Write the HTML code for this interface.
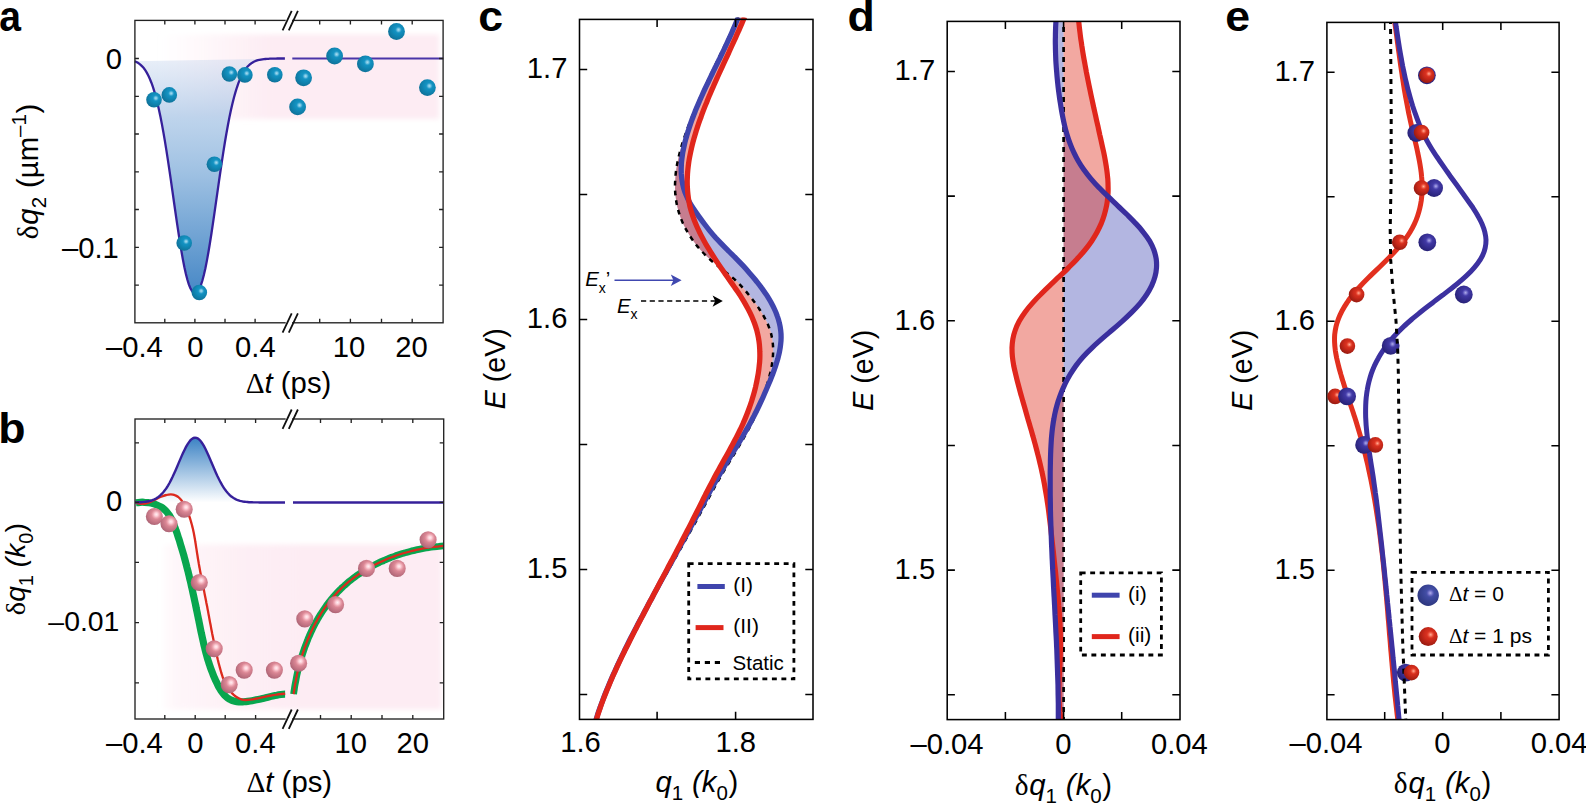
<!DOCTYPE html>
<html lang="en"><head><meta charset="utf-8"><title>Figure</title>
<style>html,body{margin:0;padding:0;background:#fff}body{width:1586px;height:804px;overflow:hidden}</style>
</head><body>
<svg width="1586" height="804" viewBox="0 0 1586 804" style="display:block;font-family:'Liberation Sans',sans-serif" fill="#000">
<defs>
<radialGradient id="gT" cx="0.6" cy="0.38" r="0.78"><stop offset="0" stop-color="#1b9ccd"/><stop offset="0.4" stop-color="#118bb9"/><stop offset="0.75" stop-color="#0f769e"/><stop offset="1" stop-color="#0c5f84"/></radialGradient>
<radialGradient id="hT"><stop offset="0" stop-color="#b5e2f3" stop-opacity="0.95"/><stop offset="0.45" stop-color="#8fd0ea" stop-opacity="0.7"/><stop offset="1" stop-color="#2aa0cf" stop-opacity="0"/></radialGradient>
<radialGradient id="gP" cx="0.6" cy="0.38" r="0.8"><stop offset="0" stop-color="#f0a5b0"/><stop offset="0.35" stop-color="#db8795"/><stop offset="0.7" stop-color="#b96d7d"/><stop offset="1" stop-color="#905062"/></radialGradient>
<radialGradient id="hP"><stop offset="0" stop-color="#fff0f3" stop-opacity="1"/><stop offset="0.35" stop-color="#ffd5dd" stop-opacity="0.9"/><stop offset="1" stop-color="#f0a5b0" stop-opacity="0"/></radialGradient>
<radialGradient id="gB" cx="0.6" cy="0.38" r="0.78"><stop offset="0" stop-color="#4d45b6"/><stop offset="0.4" stop-color="#3a3299"/><stop offset="0.75" stop-color="#2a247c"/><stop offset="1" stop-color="#1c1760"/></radialGradient>
<radialGradient id="hB"><stop offset="0" stop-color="#b9b5ee" stop-opacity="0.95"/><stop offset="0.45" stop-color="#8a85d8" stop-opacity="0.7"/><stop offset="1" stop-color="#4c44b4" stop-opacity="0"/></radialGradient>
<radialGradient id="gR" cx="0.6" cy="0.38" r="0.78"><stop offset="0" stop-color="#e63a25"/><stop offset="0.4" stop-color="#cc2a1b"/><stop offset="0.75" stop-color="#a01d12"/><stop offset="1" stop-color="#7c130c"/></radialGradient>
<radialGradient id="hR"><stop offset="0" stop-color="#ffb09a" stop-opacity="1"/><stop offset="0.4" stop-color="#fb8068" stop-opacity="0.75"/><stop offset="1" stop-color="#e63a25" stop-opacity="0"/></radialGradient>
<radialGradient id="gL" cx="0.6" cy="0.38" r="0.78"><stop offset="0" stop-color="#4d5ab2"/><stop offset="0.4" stop-color="#3c479b"/><stop offset="0.75" stop-color="#2f3983"/><stop offset="1" stop-color="#232b68"/></radialGradient>
<g id="sL"><circle r="1" fill="url(#gL)"/><circle cx="0.2" cy="-0.2" r="0.42" fill="url(#hB)"/></g>
<g id="sT"><circle r="1" fill="url(#gT)"/><circle cx="0.24" cy="-0.2" r="0.42" fill="url(#hT)"/></g>
<g id="sP"><circle r="1" fill="url(#gP)"/><circle cx="0.22" cy="-0.24" r="0.6" fill="url(#hP)"/></g>
<g id="sB"><circle r="1" fill="url(#gB)"/><circle cx="0.2" cy="-0.2" r="0.42" fill="url(#hB)"/></g>
<g id="sR"><circle r="1" fill="url(#gR)"/><circle cx="0.26" cy="-0.2" r="0.44" fill="url(#hR)"/></g>
<linearGradient id="fA" x1="0" y1="0" x2="0" y2="1"><stop offset="0" stop-color="#b9cdea" stop-opacity="0.32"/><stop offset="0.25" stop-color="#a9c6e6" stop-opacity="0.75"/><stop offset="0.5" stop-color="#9dc0e2" stop-opacity="1"/><stop offset="1" stop-color="#4788c6"/></linearGradient>
<linearGradient id="fBg" x1="0" y1="0" x2="0" y2="1"><stop offset="0" stop-color="#3b82c4"/><stop offset="1" stop-color="#ffffff"/></linearGradient>
<filter id="blur" x="-10%" y="-20%" width="120%" height="140%"><feGaussianBlur stdDeviation="2.5"/></filter>
<linearGradient id="pinkL" x1="0" y1="0" x2="1" y2="0"><stop offset="0" stop-color="#fdecf3" stop-opacity="0"/><stop offset="0.12" stop-color="#fdecf3" stop-opacity="0.25"/><stop offset="0.4" stop-color="#fdecf3" stop-opacity="1"/><stop offset="1" stop-color="#fdecf3" stop-opacity="1"/></linearGradient>
<linearGradient id="pinkB" x1="0" y1="0" x2="1" y2="0"><stop offset="0" stop-color="#fdecf3" stop-opacity="0"/><stop offset="0.05" stop-color="#fdecf3" stop-opacity="0.45"/><stop offset="0.3" stop-color="#fdecf3" stop-opacity="0.85"/><stop offset="0.5" stop-color="#fdecf3" stop-opacity="1"/><stop offset="1" stop-color="#fdecf3" stop-opacity="1"/></linearGradient>
</defs>
<rect x="158" y="34.5" width="281" height="84.5" fill="url(#pinkL)" filter="url(#blur)"/>
<path d="M134.9 61.2L136.4 61.9L137.9 62.8L139.4 63.8L140.9 65.1L142.4 66.6L143.9 68.3L145.4 70.4L146.9 72.9L148.4 75.7L149.9 79L151.4 82.7L152.9 86.9L154.4 91.7L155.9 97L157.4 102.9L158.9 109.4L160.4 116.5L161.9 124.1L163.4 132.4L164.9 141.1L166.4 150.4L167.9 160.1L169.4 170.1L170.9 180.4L172.4 190.9L173.9 201.5L175.4 212L176.9 222.3L178.4 232.4L179.9 242L181.4 251.1L182.9 259.6L184.4 267.2L185.9 274L187.4 279.8L188.9 284.6L190.4 288.3L191.9 290.9L193.4 292.5L194.9 293L196.4 292.6L197.9 291.2L199.4 288.7L200.9 285.1L202.4 280.5L203.9 274.8L205.4 268.2L206.9 260.6L208.4 252.3L209.9 243.3L211.4 233.7L212.9 223.7L214.4 213.4L215.9 202.9L217.4 192.3L218.9 181.8L220.4 171.5L221.9 161.4L223.4 151.6L224.9 142.3L226.4 133.5L227.9 125.2L229.4 117.4L230.9 110.3L232.4 103.7L233.9 97.7L235.4 92.4L236.9 87.5L238.4 83.2L239.9 79.4L241.4 76.1L242.9 73.2L244.4 70.7L245.9 68.6L247.4 66.8L248.9 65.3L250.4 64L251.9 62.9L253.4 62L254.9 61.3L256.4 60.7L257.9 60.2L259.4 59.9L260.9 59.6L262.4 59.3L263.9 59.1L265.4 59L266.9 58.9L268.4 58.8L269.9 58.7L271.4 58.6L272.9 58.6L274.4 58.6L275.9 58.6L277.4 58.5L278.9 58.5L280.4 58.5L281.9 58.5L283.4 58.5L284.9 58.5Z" fill="url(#fA)"/>
<path d="M134.9 61.2L136.4 61.9L137.9 62.8L139.4 63.8L140.9 65.1L142.4 66.6L143.9 68.3L145.4 70.4L146.9 72.9L148.4 75.7L149.9 79L151.4 82.7L152.9 86.9L154.4 91.7L155.9 97L157.4 102.9L158.9 109.4L160.4 116.5L161.9 124.1L163.4 132.4L164.9 141.1L166.4 150.4L167.9 160.1L169.4 170.1L170.9 180.4L172.4 190.9L173.9 201.5L175.4 212L176.9 222.3L178.4 232.4L179.9 242L181.4 251.1L182.9 259.6L184.4 267.2L185.9 274L187.4 279.8L188.9 284.6L190.4 288.3L191.9 290.9L193.4 292.5L194.9 293L196.4 292.6L197.9 291.2L199.4 288.7L200.9 285.1L202.4 280.5L203.9 274.8L205.4 268.2L206.9 260.6L208.4 252.3L209.9 243.3L211.4 233.7L212.9 223.7L214.4 213.4L215.9 202.9L217.4 192.3L218.9 181.8L220.4 171.5L221.9 161.4L223.4 151.6L224.9 142.3L226.4 133.5L227.9 125.2L229.4 117.4L230.9 110.3L232.4 103.7L233.9 97.7L235.4 92.4L236.9 87.5L238.4 83.2L239.9 79.4L241.4 76.1L242.9 73.2L244.4 70.7L245.9 68.6L247.4 66.8L248.9 65.3L250.4 64L251.9 62.9L253.4 62L254.9 61.3L256.4 60.7L257.9 60.2L259.4 59.9L260.9 59.6L262.4 59.3L263.9 59.1L265.4 59L266.9 58.9L268.4 58.8L269.9 58.7L271.4 58.6L272.9 58.6L274.4 58.6L275.9 58.6L277.4 58.5L278.9 58.5L280.4 58.5L281.9 58.5L283.4 58.5L284.9 58.5" fill="none" stroke="#36209a" stroke-width="2.3"/>
<path d="M292.3 58.5H443.3" fill="none" stroke="#4a35a8" stroke-width="2.2"/>
<rect x="134.9" y="20.4" width="308.2" height="302.4" fill="none" stroke="#222" stroke-width="1.35"/>
<path d="M164.8 20.4v4M164.8 322.8v-4M194.9 20.4v4M194.9 322.8v-4M225 20.4v4M225 322.8v-4M255.1 20.4v4M255.1 322.8v-4M319.7 20.4v4M319.7 322.8v-4M350.4 20.4v4M350.4 322.8v-4M381.5 20.4v4M381.5 322.8v-4M412.2 20.4v4M412.2 322.8v-4" stroke="#222" stroke-width="1.35" fill="none"/>
<path d="M134.9 58.5h4M443.1 58.5h-4M134.9 96.3h4M443.1 96.3h-4M134.9 134h4M443.1 134h-4M134.9 171.8h4M443.1 171.8h-4M134.9 209.5h4M443.1 209.5h-4M134.9 247.3h4M443.1 247.3h-4M134.9 285.1h4M443.1 285.1h-4" stroke="#222" stroke-width="1.35" fill="none"/>
<rect x="285.7" y="18.4" width="6.4" height="4" fill="#fff"/>
<path d="M282.6 30.3l9.1 -19.4M288.8 30.3l9.1 -19.4" stroke="#111" stroke-width="1.8" fill="none"/>
<rect x="285.7" y="320.8" width="6.4" height="4" fill="#fff"/>
<path d="M282.6 332.7l9.1 -19.4M288.8 332.7l9.1 -19.4" stroke="#111" stroke-width="1.8" fill="none"/>
<use href="#sT" transform="translate(154 99.7) scale(7.8)"/>
<use href="#sT" transform="translate(169.3 94.9) scale(7.8)"/>
<use href="#sT" transform="translate(184.2 243) scale(7.8)"/>
<use href="#sT" transform="translate(199.3 292.5) scale(7.8)"/>
<use href="#sT" transform="translate(214.4 164.2) scale(7.8)"/>
<use href="#sT" transform="translate(229.4 74) scale(7.8)"/>
<use href="#sT" transform="translate(244.9 74.9) scale(7.8)"/>
<use href="#sT" transform="translate(274.8 74.8) scale(7.8)"/>
<use href="#sT" transform="translate(297.6 106.9) scale(8.4)"/>
<use href="#sT" transform="translate(303.6 77.8) scale(8.4)"/>
<use href="#sT" transform="translate(334.6 56) scale(8.4)"/>
<use href="#sT" transform="translate(365.4 63.9) scale(8.4)"/>
<use href="#sT" transform="translate(396.5 31.5) scale(8.4)"/>
<use href="#sT" transform="translate(427.4 87.6) scale(8.4)"/>
<text x="134.4" y="356.9" font-size="29.2" text-anchor="middle"  style="">–0.4</text>
<text x="195.3" y="356.9" font-size="29.2" text-anchor="middle"  style="">0</text>
<text x="255.4" y="356.9" font-size="29.2" text-anchor="middle"  style="">0.4</text>
<text x="349" y="356.9" font-size="29.2" text-anchor="middle"  style="">10</text>
<text x="411.6" y="356.9" font-size="29.2" text-anchor="middle"  style="">20</text>
<text x="122" y="69" font-size="29.2" text-anchor="end"  style="">0</text>
<text x="118.8" y="258.2" font-size="29.2" text-anchor="end"  style="">–0.1</text>
<text x="288.5" y="393" font-size="29.3" text-anchor="middle"  style=""><tspan font-family="Liberation Serif,serif">Δ</tspan><tspan font-style="italic">t</tspan> (ps)</text>
<text transform="translate(37.6 171.5) rotate(-90)" font-size="29.3" text-anchor="middle"><tspan font-family="Liberation Serif,serif">δ</tspan><tspan font-style="italic" dx="0.8">q</tspan><tspan font-size="20.5" dy="8">2</tspan><tspan dy="-8" dx="0.8"> (µm</tspan><tspan font-size="20.5" dy="-12">–1</tspan><tspan dy="12" dx="0.6">)</tspan></text>
<text transform="translate(-0.8 30.8) scale(0.92 1.01)" font-size="42.5" font-weight="bold">a</text>
<rect x="160" y="544.5" width="281.5" height="165" fill="url(#pinkB)" filter="url(#blur)"/>
<path d="M141 502.2L142.5 502.1L144 501.9L145.5 501.8L147 501.5L148.5 501.3L150 500.9L151.5 500.5L153 499.9L154.5 499.3L156 498.5L157.5 497.6L159 496.5L160.5 495.2L162 493.7L163.5 492L165 490.1L166.5 488L168 485.6L169.5 483L171 480.1L172.5 477.1L174 473.8L175.5 470.5L177 467L178.5 463.4L180 459.9L181.5 456.4L183 453L184.5 449.9L186 446.9L187.5 444.3L189 442.1L190.5 440.2L192 438.9L193.5 438L195 437.7L196.5 437.9L198 438.6L199.5 439.8L201 441.5L202.5 443.7L204 446.2L205.5 449L207 452.2L208.5 455.5L210 459L211.5 462.5L213 466L214.5 469.5L216 472.9L217.5 476.2L219 479.3L220.5 482.2L222 484.9L223.5 487.3L225 489.6L226.5 491.5L228 493.3L229.5 494.8L231 496.2L232.5 497.3L234 498.3L235.5 499.1L237 499.8L238.5 500.3L240 500.8L241.5 501.2L243 501.5L244.5 501.7L246 501.9L247.5 502L249 502.2L250.5 502.2L252 502.3L253.5 502.4L255 502.4L256.5 502.4L258 502.4L259.5 502.5Z" fill="url(#fBg)"/>
<path d="M135.9 502.8C136.6 502.7 138.7 502.4 140.1 502.3C141.5 502.2 143 502.2 144.4 502.3C145.9 502.3 147.3 502.5 148.8 502.7C150.2 502.9 151.6 503.2 153 503.6C154.4 504 155.7 504.5 157 505C158.3 505.5 159.6 506.2 160.8 506.9C161.9 507.6 163.1 508.4 164.1 509.2C165.1 510.1 166.1 511.1 166.9 512.1C167.8 513.1 168.6 514.2 169.4 515.3C170.1 516.5 170.8 517.7 171.4 518.9C172 520.1 172.6 521.4 173.1 522.7C173.7 524 174.2 525.3 174.7 526.7C175.2 528 175.7 529.4 176.1 530.7C176.6 532.1 177.1 533.4 177.5 534.8C177.9 536.1 178.4 537.5 178.8 538.8C179.3 540.2 179.7 541.5 180.1 542.9C180.5 544.2 180.9 545.6 181.3 547C181.7 548.3 182.1 549.7 182.5 551C182.9 552.4 183.3 553.7 183.7 555.1C184.1 556.4 184.4 557.8 184.8 559.1C185.2 560.5 185.5 561.8 185.9 563.2C186.3 564.6 186.6 565.9 186.9 567.3C187.3 568.6 187.6 570 188 571.3C188.3 572.7 188.6 574.1 189 575.4C189.3 576.8 189.6 578.1 189.9 579.5C190.3 580.8 190.6 582.2 190.9 583.6C191.2 584.9 191.5 586.3 191.8 587.6C192.1 589 192.4 590.4 192.7 591.7C193 593.1 193.3 594.4 193.6 595.8C193.9 597.2 194.2 598.5 194.5 599.9C194.8 601.3 195.1 602.6 195.4 604C195.7 605.4 196 606.7 196.2 608.1C196.5 609.5 196.8 610.8 197.1 612.2C197.4 613.6 197.6 615 197.9 616.3C198.2 617.7 198.5 619.1 198.8 620.5C199 621.8 199.3 623.2 199.6 624.6C199.9 626 200.2 627.3 200.4 628.7C200.7 630.1 201 631.5 201.3 632.9C201.6 634.2 201.9 635.6 202.2 637C202.5 638.4 202.8 639.7 203.1 641.1C203.4 642.5 203.7 643.9 204 645.2C204.4 646.6 204.7 648 205 649.3C205.4 650.7 205.7 652.1 206.1 653.4C206.5 654.8 206.9 656.2 207.2 657.5C207.6 658.9 208 660.2 208.5 661.6C208.9 662.9 209.3 664.2 209.8 665.6C210.2 666.9 210.7 668.3 211.2 669.6C211.7 670.9 212.2 672.2 212.7 673.5C213.2 674.9 213.7 676.2 214.3 677.5C214.9 678.8 215.4 680.1 216.1 681.4C216.7 682.6 217.3 683.9 217.9 685.2C218.6 686.5 219.3 687.7 220 688.9C220.7 690.1 221.5 691.3 222.3 692.4C223.1 693.5 223.9 694.6 224.8 695.5C225.8 696.5 226.7 697.4 227.7 698.1C228.8 698.9 229.9 699.5 231.1 700C232.2 700.6 233.5 700.9 234.8 701.2C236.1 701.5 237.5 701.7 238.9 701.8C240.3 701.9 241.7 701.8 243.2 701.8C244.6 701.7 246.1 701.6 247.6 701.4C249.1 701.2 250.6 701 252.1 700.7C253.5 700.4 255 700.1 256.4 699.8C257.9 699.5 259.3 699.2 260.7 698.9C262.1 698.6 263.4 698.2 264.8 697.9C266.2 697.6 267.5 697.2 268.9 696.9C270.2 696.6 271.5 696.3 272.9 696C274.2 695.7 275.6 695.4 276.9 695.2C278.3 694.9 279.6 694.7 281 694.5C282.4 694.3 284.5 694.1 285.1 694.1" fill="none" stroke="#08a64e" stroke-width="7.2"/>
<path d="M293.6 694.1C293.7 693.3 294 691 294.3 689.5C294.5 688 294.7 686.4 295 684.9C295.3 683.3 295.6 681.8 295.9 680.3C296.2 678.7 296.5 677.2 296.8 675.6C297.1 674.1 297.5 672.5 297.8 671C298.2 669.5 298.6 667.9 299 666.4C299.4 664.9 299.8 663.3 300.2 661.8C300.6 660.3 301.1 658.7 301.6 657.2C302 655.7 302.5 654.2 303 652.7C303.5 651.2 304 649.7 304.5 648.2C305.1 646.7 305.6 645.2 306.2 643.7C306.8 642.2 307.3 640.7 307.9 639.3C308.5 637.8 309.2 636.3 309.8 634.9C310.4 633.4 311.1 632 311.8 630.6C312.4 629.2 313.1 627.7 313.8 626.3C314.6 624.9 315.3 623.5 316 622.1C316.8 620.8 317.6 619.4 318.3 618C319.1 616.7 319.9 615.3 320.8 614C321.6 612.7 322.4 611.4 323.3 610.1C324.2 608.8 325.1 607.5 326 606.2C326.9 605 327.8 603.7 328.7 602.5C329.7 601.3 330.7 600.1 331.6 598.9C332.6 597.7 333.6 596.5 334.7 595.3C335.7 594.2 336.7 593 337.8 591.9C338.9 590.8 340 589.7 341.1 588.6C342.2 587.6 343.3 586.5 344.5 585.5C345.6 584.4 346.8 583.4 348 582.4C349.2 581.4 350.4 580.5 351.6 579.5C352.8 578.5 354.1 577.6 355.3 576.7C356.6 575.8 357.8 574.9 359.1 574C360.4 573.1 361.7 572.3 363 571.5C364.4 570.6 365.7 569.8 367 569C368.4 568.2 369.8 567.5 371.1 566.7C372.5 565.9 373.9 565.2 375.3 564.5C376.7 563.8 378.1 563.1 379.5 562.4C380.9 561.8 382.4 561.1 383.8 560.5C385.3 559.8 386.7 559.2 388.2 558.6C389.7 558 391.1 557.5 392.6 556.9C394.1 556.4 395.6 555.8 397.1 555.3C398.6 554.8 400.1 554.3 401.6 553.8C403.1 553.4 404.6 552.9 406.2 552.5C407.7 552 409.2 551.6 410.8 551.2C412.3 550.8 413.8 550.5 415.4 550.1C416.9 549.8 418.5 549.4 420.1 549.1C421.6 548.8 423.2 548.5 424.7 548.2C426.3 547.9 427.9 547.7 429.4 547.5C431 547.2 432.6 547 434.1 546.8C435.7 546.6 437.3 546.4 438.8 546.3C440.4 546.1 442.7 545.9 443.5 545.9" fill="none" stroke="#08a64e" stroke-width="6.8"/>
<path d="M136 502.7C136.8 502.9 139.1 503.7 140.5 503.8C142 504 143.4 503.8 144.9 503.6C146.3 503.3 147.7 502.9 149.1 502.4C150.5 501.9 151.9 501.2 153.3 500.5C154.7 499.9 156.1 499.1 157.5 498.4C159 497.7 160.4 497 161.9 496.5C163.4 495.9 164.9 495.3 166.4 495C167.9 494.6 169.4 494.4 170.8 494.4C172.2 494.4 173.6 494.6 174.8 495.1C176.1 495.5 177.2 496.2 178.3 497C179.3 497.9 180.3 498.9 181.2 500C182.1 501.1 182.9 502.4 183.6 503.7C184.4 505 185.1 506.4 185.8 507.7C186.4 509.1 187 510.5 187.6 511.9C188.2 513.2 188.7 514.6 189.2 516C189.7 517.4 190.2 518.9 190.6 520.3C191 521.7 191.4 523.1 191.8 524.5C192.2 526 192.5 527.4 192.9 528.8C193.2 530.2 193.5 531.7 193.8 533.1C194.1 534.6 194.3 536 194.6 537.5C194.9 538.9 195.1 540.4 195.3 541.8C195.6 543.3 195.8 544.7 196 546.2C196.2 547.7 196.5 549.1 196.7 550.6C196.9 552 197.1 553.5 197.4 555C197.6 556.4 197.8 557.9 198.1 559.4C198.3 560.8 198.6 562.3 198.8 563.7C199.1 565.2 199.3 566.7 199.6 568.1C199.9 569.6 200.1 571.1 200.4 572.5C200.7 574 201 575.4 201.3 576.9C201.5 578.3 201.8 579.8 202.1 581.3C202.4 582.7 202.7 584.2 203 585.6C203.3 587.1 203.6 588.5 203.9 590C204.2 591.4 204.4 592.9 204.7 594.3C205 595.8 205.3 597.2 205.6 598.7C205.9 600.1 206.2 601.6 206.4 603C206.7 604.5 207 605.9 207.3 607.3C207.5 608.8 207.8 610.2 208.1 611.6C208.3 613.1 208.6 614.5 208.9 615.9C209.1 617.4 209.4 618.8 209.7 620.3C209.9 621.7 210.2 623.1 210.5 624.6C210.8 626 211 627.4 211.3 628.9C211.6 630.3 211.9 631.7 212.1 633.2C212.4 634.6 212.7 636 213 637.5C213.3 638.9 213.6 640.4 213.9 641.8C214.2 643.3 214.5 644.7 214.8 646.1C215.1 647.6 215.4 649 215.7 650.5C216 652 216.4 653.4 216.7 654.9C217 656.3 217.4 657.8 217.7 659.3C218.1 660.7 218.4 662.2 218.8 663.7C219.2 665.1 219.6 666.6 220 668.1C220.4 669.6 220.8 671 221.2 672.5C221.7 673.9 222.1 675.4 222.6 676.8C223.1 678.2 223.7 679.6 224.2 681C224.8 682.3 225.5 683.7 226.1 685C226.8 686.2 227.6 687.5 228.4 688.7C229.2 689.9 230 691 231 692.1C231.9 693.2 232.9 694.2 234 695.1C235.1 696.1 236.2 696.9 237.4 697.6C238.6 698.3 239.9 698.9 241.2 699.3C242.6 699.7 244 699.9 245.4 700C246.9 700.1 248.4 699.9 249.9 699.7C251.4 699.6 253 699.2 254.5 699C256 698.7 257.5 698.4 259 698.1C260.5 697.7 261.9 697.4 263.4 697.1C264.9 696.8 266.3 696.5 267.8 696.2C269.2 695.9 270.7 695.6 272.1 695.3C273.6 695 275 694.8 276.4 694.6C277.9 694.3 279.3 694.1 280.8 694C282.3 693.8 284.5 693.7 285.2 693.6" fill="none" stroke="#dc2a1e" stroke-width="2.3"/>
<path d="M293.6 694.1C293.7 693.3 294 691 294.3 689.5C294.5 688 294.7 686.4 295 684.9C295.3 683.3 295.6 681.8 295.9 680.3C296.2 678.7 296.5 677.2 296.8 675.6C297.1 674.1 297.5 672.5 297.8 671C298.2 669.5 298.6 667.9 299 666.4C299.4 664.9 299.8 663.3 300.2 661.8C300.6 660.3 301.1 658.7 301.6 657.2C302 655.7 302.5 654.2 303 652.7C303.5 651.2 304 649.7 304.5 648.2C305.1 646.7 305.6 645.2 306.2 643.7C306.8 642.2 307.3 640.7 307.9 639.3C308.5 637.8 309.2 636.3 309.8 634.9C310.4 633.4 311.1 632 311.8 630.6C312.4 629.2 313.1 627.7 313.8 626.3C314.6 624.9 315.3 623.5 316 622.1C316.8 620.8 317.6 619.4 318.3 618C319.1 616.7 319.9 615.3 320.8 614C321.6 612.7 322.4 611.4 323.3 610.1C324.2 608.8 325.1 607.5 326 606.2C326.9 605 327.8 603.7 328.7 602.5C329.7 601.3 330.7 600.1 331.6 598.9C332.6 597.7 333.6 596.5 334.7 595.3C335.7 594.2 336.7 593 337.8 591.9C338.9 590.8 340 589.7 341.1 588.6C342.2 587.6 343.3 586.5 344.5 585.5C345.6 584.4 346.8 583.4 348 582.4C349.2 581.4 350.4 580.5 351.6 579.5C352.8 578.5 354.1 577.6 355.3 576.7C356.6 575.8 357.8 574.9 359.1 574C360.4 573.1 361.7 572.3 363 571.5C364.4 570.6 365.7 569.8 367 569C368.4 568.2 369.8 567.5 371.1 566.7C372.5 565.9 373.9 565.2 375.3 564.5C376.7 563.8 378.1 563.1 379.5 562.4C380.9 561.8 382.4 561.1 383.8 560.5C385.3 559.8 386.7 559.2 388.2 558.6C389.7 558 391.1 557.5 392.6 556.9C394.1 556.4 395.6 555.8 397.1 555.3C398.6 554.8 400.1 554.3 401.6 553.8C403.1 553.4 404.6 552.9 406.2 552.5C407.7 552 409.2 551.6 410.8 551.2C412.3 550.8 413.8 550.5 415.4 550.1C416.9 549.8 418.5 549.4 420.1 549.1C421.6 548.8 423.2 548.5 424.7 548.2C426.3 547.9 427.9 547.7 429.4 547.5C431 547.2 432.6 547 434.1 546.8C435.7 546.6 437.3 546.4 438.8 546.3C440.4 546.1 442.7 545.9 443.5 545.9" fill="none" stroke="#dc2a1e" stroke-width="2.2"/>
<path d="M135 502.4L136.5 502.4L138 502.3L139.5 502.3L141 502.2L142.5 502.1L144 501.9L145.5 501.8L147 501.5L148.5 501.3L150 500.9L151.5 500.5L153 499.9L154.5 499.3L156 498.5L157.5 497.6L159 496.5L160.5 495.2L162 493.7L163.5 492L165 490.1L166.5 488L168 485.6L169.5 483L171 480.1L172.5 477.1L174 473.8L175.5 470.5L177 467L178.5 463.4L180 459.9L181.5 456.4L183 453L184.5 449.9L186 446.9L187.5 444.3L189 442.1L190.5 440.2L192 438.9L193.5 438L195 437.7L196.5 437.9L198 438.6L199.5 439.8L201 441.5L202.5 443.7L204 446.2L205.5 449L207 452.2L208.5 455.5L210 459L211.5 462.5L213 466L214.5 469.5L216 472.9L217.5 476.2L219 479.3L220.5 482.2L222 484.9L223.5 487.3L225 489.6L226.5 491.5L228 493.3L229.5 494.8L231 496.2L232.5 497.3L234 498.3L235.5 499.1L237 499.8L238.5 500.3L240 500.8L241.5 501.2L243 501.5L244.5 501.7L246 501.9L247.5 502L249 502.2L250.5 502.2L252 502.3L253.5 502.4L255 502.4L256.5 502.4L258 502.4L259.5 502.5L261 502.5L262.5 502.5L264 502.5L265.5 502.5L267 502.5L268.5 502.5L270 502.5L271.5 502.5L273 502.5L274.5 502.5L276 502.5L277.5 502.5L279 502.5L280.5 502.5L282 502.5L283.5 502.5L285 502.5" fill="none" stroke="#36209a" stroke-width="2.4"/>
<path d="M293 502.5H443.3" fill="none" stroke="#36209a" stroke-width="2.3"/>
<rect x="135" y="419" width="308.7" height="300" fill="none" stroke="#222" stroke-width="1.35"/>
<path d="M164.8 419v4M164.8 719v-4M195.2 419v4M195.2 719v-4M225.2 419v4M225.2 719v-4M255.6 419v4M255.6 719v-4M320.5 419v4M320.5 719v-4M351.2 419v4M351.2 719v-4M382 419v4M382 719v-4M412.8 419v4M412.8 719v-4" stroke="#222" stroke-width="1.35" fill="none"/>
<path d="M135 442.8h4M443.7 442.8h-4M135 502.3h4M443.7 502.3h-4M135 562.4h4M443.7 562.4h-4M135 622.6h4M443.7 622.6h-4M135 682.9h4M443.7 682.9h-4" stroke="#222" stroke-width="1.35" fill="none"/>
<rect x="285.7" y="417" width="6.4" height="4" fill="#fff"/>
<path d="M282.6 428.9l9.1 -19.4M288.8 428.9l9.1 -19.4" stroke="#111" stroke-width="1.8" fill="none"/>
<rect x="285.7" y="717" width="6.4" height="4" fill="#fff"/>
<path d="M282.6 728.9l9.1 -19.4M288.8 728.9l9.1 -19.4" stroke="#111" stroke-width="1.8" fill="none"/>
<use href="#sP" transform="translate(154.4 516.5) scale(8.55)"/>
<use href="#sP" transform="translate(169 523.7) scale(8.55)"/>
<use href="#sP" transform="translate(184.2 509.3) scale(8.55)"/>
<use href="#sP" transform="translate(199.3 582.5) scale(8.55)"/>
<use href="#sP" transform="translate(214.2 648.8) scale(8.55)"/>
<use href="#sP" transform="translate(229.2 684.6) scale(8.55)"/>
<use href="#sP" transform="translate(244.2 670.1) scale(8.55)"/>
<use href="#sP" transform="translate(274.4 670.1) scale(8.55)"/>
<use href="#sP" transform="translate(298.6 663.2) scale(8.55)"/>
<use href="#sP" transform="translate(304.8 618.9) scale(8.55)"/>
<use href="#sP" transform="translate(335.6 604.6) scale(8.55)"/>
<use href="#sP" transform="translate(366.5 568.4) scale(8.55)"/>
<use href="#sP" transform="translate(397.2 568.4) scale(8.55)"/>
<use href="#sP" transform="translate(428.1 539.7) scale(8.55)"/>
<text x="134.4" y="752.9" font-size="29.2" text-anchor="middle"  style="">–0.4</text>
<text x="195.3" y="752.9" font-size="29.2" text-anchor="middle"  style="">0</text>
<text x="255.4" y="752.9" font-size="29.2" text-anchor="middle"  style="">0.4</text>
<text x="350.8" y="752.9" font-size="29.2" text-anchor="middle"  style="">10</text>
<text x="412.8" y="752.9" font-size="29.2" text-anchor="middle"  style="">20</text>
<text x="122.3" y="511.3" font-size="29.2" text-anchor="end"  style="">0</text>
<text x="119.4" y="631.3" font-size="28.4" text-anchor="end"  style="">–0.01</text>
<text x="289.3" y="791.8" font-size="29.3" text-anchor="middle"  style=""><tspan font-family="Liberation Serif,serif">Δ</tspan><tspan font-style="italic">t</tspan> (ps)</text>
<text transform="translate(24.9 569.2) rotate(-90)" font-size="28.2" text-anchor="middle"><tspan font-family="Liberation Serif,serif">δ</tspan><tspan font-style="italic">q</tspan><tspan font-size="20" dy="8">1</tspan><tspan dy="-8" font-style="italic"> (k</tspan><tspan font-size="20" dy="8">0</tspan><tspan dy="-8">)</tspan></text>
<text transform="translate(-1.8 442.9) scale(1.05 1.01)" font-size="42.5" font-weight="bold">b</text>
<clipPath id="clipC"><rect x="579.5" y="17.4" width="233.5" height="702"/></clipPath>
<g clip-path="url(#clipC)">
<path d="M738.4 17C737.9 18.2 736.5 21.7 735.5 24.1C734.5 26.5 733.5 28.9 732.4 31.2C731.4 33.6 730.3 36 729.2 38.4C728.1 40.7 727 43.1 725.9 45.5C724.8 47.9 723.7 50.2 722.5 52.6C721.4 55 720.2 57.4 719.1 59.7C717.9 62.1 716.8 64.5 715.6 66.8C714.4 69.2 713.3 71.6 712.1 74C711 76.3 709.8 78.7 708.7 81.1C707.6 83.5 706.4 85.8 705.3 88.2C704.2 90.6 703.1 93 702.1 95.3C701 97.7 699.9 100.1 698.9 102.5C697.9 104.8 696.9 107.2 695.9 109.6C695 111.9 694 114.3 693.1 116.7C692.2 119.1 691.3 121.4 690.5 123.8C689.7 126.2 688.9 128.6 688.2 130.9C687.4 133.3 686.7 135.7 686.1 138.1C685.4 140.4 684.8 142.8 684.3 145.2C683.8 147.6 683.3 149.9 682.8 152.3C682.4 154.7 682.1 157.1 681.8 159.4C681.5 161.8 681.3 164.2 681.3 166.5C681.2 168.9 681.2 171.3 681.3 173.7C681.5 176 681.7 178.4 682.1 180.8C682.5 183.2 683 185.5 683.6 187.9C684.3 190.3 685.1 192.7 686.1 195C687.1 197.4 688.2 199.8 689.5 202.2C690.8 204.5 692.3 206.9 693.9 209.3C695.4 211.6 697.1 214 698.8 216.4C700.5 218.8 702.3 221.1 704.1 223.5C705.9 225.9 707.7 228.3 709.6 230.6C711.6 233 713.6 235.4 715.7 237.8C717.9 240.1 720.2 242.5 722.5 244.9C724.8 247.3 727.2 249.6 729.6 252C732 254.4 734.4 256.7 736.7 259.1C739 261.5 741.3 263.9 743.5 266.2C745.7 268.6 747.8 271 749.9 273.4C752 275.7 754 278.1 755.9 280.5C757.8 282.9 759.7 285.2 761.4 287.6C763.2 290 764.8 292.4 766.4 294.7C767.9 297.1 769.4 299.5 770.7 301.8C772 304.2 773.3 306.6 774.4 309C775.5 311.3 776.5 313.7 777.3 316.1C778.2 318.5 778.9 320.8 779.4 323.2C780 325.6 780.4 328 780.7 330.3C781 332.7 781.1 335.1 781.1 337.5C781.1 339.8 780.9 342.2 780.6 344.6C780.4 346.9 780 349.3 779.5 351.7C779 354.1 778.4 356.4 777.8 358.8C777.1 361.2 776.4 363.6 775.6 365.9C774.8 368.3 774 370.7 773.1 373.1C772.2 375.4 771.2 377.8 770.3 380.2C769.3 382.6 768.3 384.9 767.3 387.3C766.3 389.7 765.3 392.1 764.2 394.4C763.2 396.8 762.1 399.2 761 401.5C759.9 403.9 758.8 406.3 757.6 408.7C756.5 411 755.3 413.4 754.1 415.8C752.8 418.2 751.6 420.5 750.3 422.9C749 425.3 747.7 427.7 746.3 430C745 432.4 743.6 434.8 742.2 437.2C740.8 439.5 739.4 441.9 737.9 444.3C736.5 446.6 735 449 733.6 451.4C732.1 453.8 730.7 456.1 729.2 458.5C727.7 460.9 726.3 463.3 724.8 465.6C723.4 468 722 470.4 720.6 472.8C719.2 475.1 717.8 477.5 716.4 479.9C715.1 482.3 713.7 484.6 712.4 487C711.1 489.4 709.8 491.7 708.5 494.1C707.2 496.5 705.9 498.9 704.6 501.2C703.4 503.6 702.1 506 700.8 508.4C699.5 510.7 698.3 513.1 697 515.5C695.7 517.9 694.4 520.2 693.1 522.6C691.8 525 690.5 527.4 689.2 529.7C688 532.1 686.7 534.5 685.4 536.8C684.1 539.2 682.8 541.6 681.4 544C680.1 546.3 678.8 548.7 677.5 551.1C676.2 553.5 674.9 555.8 673.6 558.2C672.3 560.6 671 563 669.7 565.3C668.4 567.7 667.1 570.1 665.8 572.5C664.5 574.8 663.2 577.2 661.9 579.6C660.6 581.9 659.3 584.3 658 586.7C656.7 589.1 655.4 591.4 654.1 593.8C652.8 596.2 651.6 598.6 650.3 600.9C649 603.3 647.7 605.7 646.5 608.1C645.2 610.4 643.9 612.8 642.7 615.2C641.4 617.6 640.2 619.9 638.9 622.3C637.7 624.7 636.4 627.1 635.2 629.4C634 631.8 632.8 634.2 631.5 636.5C630.3 638.9 629.1 641.3 627.9 643.7C626.8 646 625.6 648.4 624.4 650.8C623.3 653.2 622.1 655.5 621 657.9C619.8 660.3 618.7 662.7 617.6 665C616.5 667.4 615.4 669.8 614.4 672.2C613.3 674.5 612.3 676.9 611.2 679.3C610.2 681.6 609.2 684 608.2 686.4C607.2 688.8 606.3 691.1 605.3 693.5C604.4 695.9 603.5 698.3 602.6 700.6C601.7 703 600.8 705.4 600 707.8C599.1 710.1 598.3 712.5 597.5 714.9C596.8 717.3 595.7 720.8 595.3 722L595.5 722C595.9 720.8 597 717.3 597.8 714.9C598.6 712.5 599.5 710.1 600.3 707.8C601.2 705.4 602.1 703 603 700.6C603.8 698.3 604.8 695.9 605.7 693.5C606.7 691.1 607.6 688.8 608.6 686.4C609.6 684 610.6 681.6 611.6 679.3C612.7 676.9 613.7 674.5 614.8 672.2C615.8 669.8 616.9 667.4 618 665C619.1 662.7 620.2 660.3 621.4 657.9C622.5 655.5 623.7 653.2 624.8 650.8C626 648.4 627.2 646 628.4 643.7C629.6 641.3 630.8 638.9 632 636.5C633.2 634.2 634.4 631.8 635.7 629.4C636.9 627.1 638.2 624.7 639.4 622.3C640.7 619.9 642 617.6 643.3 615.2C644.6 612.8 645.8 610.4 647.1 608.1C648.4 605.7 649.8 603.3 651.1 600.9C652.4 598.6 653.7 596.2 655 593.8C656.4 591.4 657.7 589.1 659 586.7C660.4 584.3 661.7 581.9 663 579.6C664.4 577.2 665.7 574.8 667.1 572.5C668.4 570.1 669.8 567.7 671.1 565.3C672.5 563 673.8 560.6 675.2 558.2C676.5 555.8 677.9 553.5 679.2 551.1C680.6 548.7 681.9 546.3 683.3 544C684.6 541.6 686 539.2 687.3 536.8C688.7 534.5 690 532.1 691.3 529.7C692.6 527.4 694 525 695.3 522.6C696.6 520.2 697.9 517.9 699.2 515.5C700.5 513.1 701.8 510.7 703.1 508.4C704.4 506 705.7 503.6 707 501.2C708.3 498.9 709.5 496.5 710.8 494.1C712.1 491.7 713.4 489.4 714.8 487C716.1 484.6 717.4 482.3 718.8 479.9C720.2 477.5 721.5 475.1 722.9 472.8C724.3 470.4 725.8 468 727.2 465.6C728.6 463.3 730.1 460.9 731.5 458.5C733 456.1 734.4 453.8 735.8 451.4C737.3 449 738.7 446.6 740.1 444.3C741.5 441.9 742.9 439.5 744.2 437.2C745.6 434.8 746.9 432.4 748.2 430C749.4 427.7 750.7 425.3 751.9 422.9C753 420.5 754.2 418.2 755.3 415.8C756.4 413.4 757.4 411 758.4 408.7C759.4 406.3 760.4 403.9 761.3 401.5C762.2 399.2 763.1 396.8 763.9 394.4C764.7 392.1 765.5 389.7 766.2 387.3C767 384.9 767.7 382.6 768.4 380.2C769 377.8 769.6 375.4 770.2 373.1C770.7 370.7 771.3 368.3 771.7 365.9C772.1 363.6 772.4 361.2 772.7 358.8C772.9 356.4 773.1 354.1 773.1 351.7C773.2 349.3 773.1 346.9 772.9 344.6C772.7 342.2 772.4 339.8 771.9 337.5C771.5 335.1 770.9 332.7 770.1 330.3C769.3 328 768.4 325.6 767.3 323.2C766.2 320.8 765 318.5 763.7 316.1C762.3 313.7 760.9 311.3 759.3 309C757.7 306.6 756 304.2 754.2 301.8C752.5 299.5 750.6 297.1 748.7 294.7C746.8 292.4 744.8 290 742.6 287.6C740.5 285.2 738.2 282.9 735.7 280.5C733.1 278.1 730.2 275.7 727.3 273.4C724.4 271 721.2 268.6 718.2 266.2C715.3 263.9 712.3 261.5 709.6 259.1C707 256.7 704.7 254.4 702.4 252C700.2 249.6 698.2 247.3 696.3 244.9C694.4 242.5 692.7 240.1 691.1 237.8C689.5 235.4 688 233 686.7 230.6C685.3 228.3 684.1 225.9 683 223.5C681.9 221.1 681 218.8 680.2 216.4C679.3 214 678.6 211.6 678 209.3C677.3 206.9 676.8 204.5 676.4 202.2C676 199.8 675.7 197.4 675.4 195C675.2 192.7 675.1 190.3 675 187.9C675 185.5 675 183.2 675.2 180.8C675.3 178.4 675.5 176 675.7 173.7C676 171.3 676.3 168.9 676.7 166.5C677.1 164.2 677.6 161.8 678.1 159.4C678.6 157.1 679.2 154.7 679.8 152.3C680.5 149.9 681.1 147.6 681.8 145.2C682.6 142.8 683.3 140.4 684.1 138.1C684.9 135.7 685.7 133.3 686.6 130.9C687.4 128.6 688.3 126.2 689.2 123.8C690.1 121.4 691.1 119.1 692 116.7C693 114.3 694 111.9 695 109.6C696 107.2 697 104.8 698 102.5C699 100.1 700.1 97.7 701.2 95.3C702.2 93 703.3 90.6 704.4 88.2C705.5 85.8 706.6 83.5 707.7 81.1C708.8 78.7 709.9 76.3 711 74C712.2 71.6 713.3 69.2 714.4 66.8C715.6 64.5 716.7 62.1 717.9 59.7C719 57.4 720.2 55 721.3 52.6C722.4 50.2 723.6 47.9 724.7 45.5C725.9 43.1 727 40.7 728.1 38.4C729.3 36 730.4 33.6 731.5 31.2C732.6 28.9 733.7 26.5 734.8 24.1C735.9 21.7 737.5 18.2 738.1 17Z" fill="#4a50b8" fill-opacity="0.42"/>
<path d="M744.6 17C744.1 18.2 742.6 21.7 741.6 24.1C740.5 26.5 739.5 28.9 738.5 31.2C737.4 33.6 736.3 36 735.3 38.4C734.2 40.7 733.1 43.1 732 45.5C730.9 47.9 729.8 50.2 728.8 52.6C727.7 55 726.6 57.4 725.5 59.7C724.4 62.1 723.3 64.5 722.2 66.8C721.1 69.2 720 71.6 718.9 74C717.8 76.3 716.8 78.7 715.7 81.1C714.6 83.5 713.6 85.8 712.6 88.2C711.5 90.6 710.5 93 709.5 95.3C708.5 97.7 707.5 100.1 706.6 102.5C705.6 104.8 704.6 107.2 703.7 109.6C702.8 111.9 701.9 114.3 701.1 116.7C700.2 119.1 699.3 121.4 698.5 123.8C697.7 126.2 697 128.6 696.2 130.9C695.5 133.3 694.8 135.7 694.1 138.1C693.4 140.4 692.8 142.8 692.2 145.2C691.6 147.6 691.1 149.9 690.6 152.3C690.1 154.7 689.6 157.1 689.2 159.4C688.8 161.8 688.5 164.2 688.2 166.5C687.9 168.9 687.7 171.3 687.5 173.7C687.4 176 687.3 178.4 687.2 180.8C687.2 183.2 687.2 185.5 687.4 187.9C687.5 190.3 687.7 192.7 688 195C688.2 197.4 688.6 199.8 689.1 202.2C689.5 204.5 690 206.9 690.7 209.3C691.3 211.6 692.1 214 692.9 216.4C693.7 218.8 694.6 221.1 695.6 223.5C696.6 225.9 697.6 228.3 698.8 230.6C699.9 233 701.1 235.4 702.4 237.8C703.6 240.1 705 242.5 706.3 244.9C707.7 247.3 709.2 249.6 710.6 252C712.1 254.4 713.6 256.7 715.2 259.1C716.7 261.5 718.3 263.9 719.9 266.2C721.5 268.6 723.2 271 724.8 273.4C726.5 275.7 728.2 278.1 729.8 280.5C731.5 282.9 733.2 285.2 734.8 287.6C736.5 290 738.1 292.4 739.7 294.7C741.2 297.1 742.7 299.5 744.1 301.8C745.5 304.2 746.8 306.6 748.1 309C749.3 311.3 750.5 313.7 751.6 316.1C752.6 318.5 753.6 320.8 754.5 323.2C755.4 325.6 756.1 328 756.8 330.3C757.4 332.7 758 335.1 758.4 337.5C758.8 339.8 759.2 342.2 759.4 344.6C759.6 346.9 759.8 349.3 759.8 351.7C759.9 354.1 759.9 356.4 759.8 358.8C759.7 361.2 759.5 363.6 759.2 365.9C759 368.3 758.7 370.7 758.3 373.1C757.9 375.4 757.5 377.8 757 380.2C756.6 382.6 756 384.9 755.5 387.3C754.9 389.7 754.3 392.1 753.6 394.4C752.9 396.8 752.2 399.2 751.5 401.5C750.7 403.9 749.9 406.3 749 408.7C748.2 411 747.3 413.4 746.3 415.8C745.4 418.2 744.4 420.5 743.3 422.9C742.3 425.3 741.1 427.7 740 430C738.9 432.4 737.7 434.8 736.4 437.2C735.2 439.5 734 441.9 732.7 444.3C731.4 446.6 730.1 449 728.8 451.4C727.5 453.8 726.2 456.1 724.8 458.5C723.5 460.9 722.2 463.3 720.9 465.6C719.6 468 718.2 470.4 716.9 472.8C715.6 475.1 714.4 477.5 713.1 479.9C711.8 482.3 710.6 484.6 709.4 487C708.2 489.4 707 491.7 705.7 494.1C704.5 496.5 703.4 498.9 702.2 501.2C701 503.6 699.8 506 698.6 508.4C697.4 510.7 696.2 513.1 695 515.5C693.8 517.9 692.6 520.2 691.4 522.6C690.2 525 689 527.4 687.7 529.7C686.5 532.1 685.3 534.5 684.1 536.8C682.8 539.2 681.6 541.6 680.4 544C679.1 546.3 677.9 548.7 676.6 551.1C675.4 553.5 674.1 555.8 672.9 558.2C671.6 560.6 670.4 563 669.1 565.3C667.9 567.7 666.6 570.1 665.4 572.5C664.1 574.8 662.9 577.2 661.6 579.6C660.4 581.9 659.1 584.3 657.8 586.7C656.6 589.1 655.3 591.4 654.1 593.8C652.8 596.2 651.6 598.6 650.3 600.9C649.1 603.3 647.8 605.7 646.6 608.1C645.3 610.4 644.1 612.8 642.9 615.2C641.6 617.6 640.4 619.9 639.2 622.3C637.9 624.7 636.7 627.1 635.5 629.4C634.3 631.8 633.1 634.2 631.9 636.5C630.6 638.9 629.5 641.3 628.3 643.7C627.1 646 625.9 648.4 624.7 650.8C623.6 653.2 622.4 655.5 621.3 657.9C620.2 660.3 619 662.7 617.9 665C616.8 667.4 615.7 669.8 614.7 672.2C613.6 674.5 612.5 676.9 611.5 679.3C610.5 681.6 609.5 684 608.5 686.4C607.5 688.8 606.5 691.1 605.6 693.5C604.6 695.9 603.7 698.3 602.8 700.6C601.9 703 601.1 705.4 600.2 707.8C599.4 710.1 598.6 712.5 597.8 714.9C597.1 717.3 596 720.8 595.6 722L595.5 722C595.9 720.8 597 717.3 597.8 714.9C598.6 712.5 599.5 710.1 600.3 707.8C601.2 705.4 602.1 703 603 700.6C603.8 698.3 604.8 695.9 605.7 693.5C606.7 691.1 607.6 688.8 608.6 686.4C609.6 684 610.6 681.6 611.6 679.3C612.7 676.9 613.7 674.5 614.8 672.2C615.8 669.8 616.9 667.4 618 665C619.1 662.7 620.2 660.3 621.4 657.9C622.5 655.5 623.7 653.2 624.8 650.8C626 648.4 627.2 646 628.4 643.7C629.6 641.3 630.8 638.9 632 636.5C633.2 634.2 634.4 631.8 635.7 629.4C636.9 627.1 638.2 624.7 639.4 622.3C640.7 619.9 642 617.6 643.3 615.2C644.6 612.8 645.8 610.4 647.1 608.1C648.4 605.7 649.8 603.3 651.1 600.9C652.4 598.6 653.7 596.2 655 593.8C656.4 591.4 657.7 589.1 659 586.7C660.4 584.3 661.7 581.9 663 579.6C664.4 577.2 665.7 574.8 667.1 572.5C668.4 570.1 669.8 567.7 671.1 565.3C672.5 563 673.8 560.6 675.2 558.2C676.5 555.8 677.9 553.5 679.2 551.1C680.6 548.7 681.9 546.3 683.3 544C684.6 541.6 686 539.2 687.3 536.8C688.7 534.5 690 532.1 691.3 529.7C692.6 527.4 694 525 695.3 522.6C696.6 520.2 697.9 517.9 699.2 515.5C700.5 513.1 701.8 510.7 703.1 508.4C704.4 506 705.7 503.6 707 501.2C708.3 498.9 709.5 496.5 710.8 494.1C712.1 491.7 713.4 489.4 714.8 487C716.1 484.6 717.4 482.3 718.8 479.9C720.2 477.5 721.5 475.1 722.9 472.8C724.3 470.4 725.8 468 727.2 465.6C728.6 463.3 730.1 460.9 731.5 458.5C733 456.1 734.4 453.8 735.8 451.4C737.3 449 738.7 446.6 740.1 444.3C741.5 441.9 742.9 439.5 744.2 437.2C745.6 434.8 746.9 432.4 748.2 430C749.4 427.7 750.7 425.3 751.9 422.9C753 420.5 754.2 418.2 755.3 415.8C756.4 413.4 757.4 411 758.4 408.7C759.4 406.3 760.4 403.9 761.3 401.5C762.2 399.2 763.1 396.8 763.9 394.4C764.7 392.1 765.5 389.7 766.2 387.3C767 384.9 767.7 382.6 768.4 380.2C769 377.8 769.6 375.4 770.2 373.1C770.7 370.7 771.3 368.3 771.7 365.9C772.1 363.6 772.4 361.2 772.7 358.8C772.9 356.4 773.1 354.1 773.1 351.7C773.2 349.3 773.1 346.9 772.9 344.6C772.7 342.2 772.4 339.8 771.9 337.5C771.5 335.1 770.9 332.7 770.1 330.3C769.3 328 768.4 325.6 767.3 323.2C766.2 320.8 765 318.5 763.7 316.1C762.3 313.7 760.9 311.3 759.3 309C757.7 306.6 756 304.2 754.2 301.8C752.5 299.5 750.6 297.1 748.7 294.7C746.8 292.4 744.8 290 742.6 287.6C740.5 285.2 738.2 282.9 735.7 280.5C733.1 278.1 730.2 275.7 727.3 273.4C724.4 271 721.2 268.6 718.2 266.2C715.3 263.9 712.3 261.5 709.6 259.1C707 256.7 704.7 254.4 702.4 252C700.2 249.6 698.2 247.3 696.3 244.9C694.4 242.5 692.7 240.1 691.1 237.8C689.5 235.4 688 233 686.7 230.6C685.3 228.3 684.1 225.9 683 223.5C681.9 221.1 681 218.8 680.2 216.4C679.3 214 678.6 211.6 678 209.3C677.3 206.9 676.8 204.5 676.4 202.2C676 199.8 675.7 197.4 675.4 195C675.2 192.7 675.1 190.3 675 187.9C675 185.5 675 183.2 675.2 180.8C675.3 178.4 675.5 176 675.7 173.7C676 171.3 676.3 168.9 676.7 166.5C677.1 164.2 677.6 161.8 678.1 159.4C678.6 157.1 679.2 154.7 679.8 152.3C680.5 149.9 681.1 147.6 681.8 145.2C682.6 142.8 683.3 140.4 684.1 138.1C684.9 135.7 685.7 133.3 686.6 130.9C687.4 128.6 688.3 126.2 689.2 123.8C690.1 121.4 691.1 119.1 692 116.7C693 114.3 694 111.9 695 109.6C696 107.2 697 104.8 698 102.5C699 100.1 700.1 97.7 701.2 95.3C702.2 93 703.3 90.6 704.4 88.2C705.5 85.8 706.6 83.5 707.7 81.1C708.8 78.7 709.9 76.3 711 74C712.2 71.6 713.3 69.2 714.4 66.8C715.6 64.5 716.7 62.1 717.9 59.7C719 57.4 720.2 55 721.3 52.6C722.4 50.2 723.6 47.9 724.7 45.5C725.9 43.1 727 40.7 728.1 38.4C729.3 36 730.4 33.6 731.5 31.2C732.6 28.9 733.7 26.5 734.8 24.1C735.9 21.7 737.5 18.2 738.1 17Z" fill="#e03020" fill-opacity="0.42"/>
<path d="M738.1 17C737.5 18.2 735.9 21.7 734.8 24.1C733.7 26.5 732.6 28.9 731.5 31.2C730.4 33.6 729.3 36 728.1 38.4C727 40.7 725.9 43.1 724.7 45.5C723.6 47.9 722.4 50.2 721.3 52.6C720.2 55 719 57.4 717.9 59.7C716.7 62.1 715.6 64.5 714.4 66.8C713.3 69.2 712.2 71.6 711 74C709.9 76.3 708.8 78.7 707.7 81.1C706.6 83.5 705.5 85.8 704.4 88.2C703.3 90.6 702.2 93 701.2 95.3C700.1 97.7 699 100.1 698 102.5C697 104.8 696 107.2 695 109.6C694 111.9 693 114.3 692 116.7C691.1 119.1 690.1 121.4 689.2 123.8C688.3 126.2 687.4 128.6 686.6 130.9C685.7 133.3 684.9 135.7 684.1 138.1C683.3 140.4 682.6 142.8 681.8 145.2C681.1 147.6 680.5 149.9 679.8 152.3C679.2 154.7 678.6 157.1 678.1 159.4C677.6 161.8 677.1 164.2 676.7 166.5C676.3 168.9 676 171.3 675.7 173.7C675.5 176 675.3 178.4 675.2 180.8C675 183.2 675 185.5 675 187.9C675.1 190.3 675.2 192.7 675.4 195C675.7 197.4 676 199.8 676.4 202.2C676.8 204.5 677.3 206.9 678 209.3C678.6 211.6 679.3 214 680.2 216.4C681 218.8 681.9 221.1 683 223.5C684.1 225.9 685.3 228.3 686.7 230.6C688 233 689.5 235.4 691.1 237.8C692.7 240.1 694.4 242.5 696.3 244.9C698.2 247.3 700.2 249.6 702.4 252C704.7 254.4 707 256.7 709.6 259.1C712.3 261.5 715.3 263.9 718.2 266.2C721.2 268.6 724.4 271 727.3 273.4C730.2 275.7 733.1 278.1 735.7 280.5C738.2 282.9 740.5 285.2 742.6 287.6C744.8 290 746.8 292.4 748.7 294.7C750.6 297.1 752.5 299.5 754.2 301.8C756 304.2 757.7 306.6 759.3 309C760.9 311.3 762.3 313.7 763.7 316.1C765 318.5 766.2 320.8 767.3 323.2C768.4 325.6 769.3 328 770.1 330.3C770.9 332.7 771.5 335.1 771.9 337.5C772.4 339.8 772.7 342.2 772.9 344.6C773.1 346.9 773.2 349.3 773.1 351.7C773.1 354.1 772.9 356.4 772.7 358.8C772.4 361.2 772.1 363.6 771.7 365.9C771.3 368.3 770.7 370.7 770.2 373.1C769.6 375.4 769 377.8 768.4 380.2C767.7 382.6 767 384.9 766.2 387.3C765.5 389.7 764.7 392.1 763.9 394.4C763.1 396.8 762.2 399.2 761.3 401.5C760.4 403.9 759.4 406.3 758.4 408.7C757.4 411 756.4 413.4 755.3 415.8C754.2 418.2 753 420.5 751.9 422.9C750.7 425.3 749.4 427.7 748.2 430C746.9 432.4 745.6 434.8 744.2 437.2C742.9 439.5 741.5 441.9 740.1 444.3C738.7 446.6 737.3 449 735.8 451.4C734.4 453.8 733 456.1 731.5 458.5C730.1 460.9 728.6 463.3 727.2 465.6C725.8 468 724.3 470.4 722.9 472.8C721.5 475.1 720.2 477.5 718.8 479.9C717.4 482.3 716.1 484.6 714.8 487C713.4 489.4 712.1 491.7 710.8 494.1C709.5 496.5 708.3 498.9 707 501.2C705.7 503.6 704.4 506 703.1 508.4C701.8 510.7 700.5 513.1 699.2 515.5C697.9 517.9 696.6 520.2 695.3 522.6C694 525 692.6 527.4 691.3 529.7C690 532.1 688.7 534.5 687.3 536.8C686 539.2 684.6 541.6 683.3 544C681.9 546.3 680.6 548.7 679.2 551.1C677.9 553.5 676.5 555.8 675.2 558.2C673.8 560.6 672.5 563 671.1 565.3C669.8 567.7 668.4 570.1 667.1 572.5C665.7 574.8 664.4 577.2 663 579.6C661.7 581.9 660.4 584.3 659 586.7C657.7 589.1 656.4 591.4 655 593.8C653.7 596.2 652.4 598.6 651.1 600.9C649.8 603.3 648.4 605.7 647.1 608.1C645.8 610.4 644.6 612.8 643.3 615.2C642 617.6 640.7 619.9 639.4 622.3C638.2 624.7 636.9 627.1 635.7 629.4C634.4 631.8 633.2 634.2 632 636.5C630.8 638.9 629.6 641.3 628.4 643.7C627.2 646 626 648.4 624.8 650.8C623.7 653.2 622.5 655.5 621.4 657.9C620.2 660.3 619.1 662.7 618 665C616.9 667.4 615.8 669.8 614.8 672.2C613.7 674.5 612.7 676.9 611.6 679.3C610.6 681.6 609.6 684 608.6 686.4C607.6 688.8 606.7 691.1 605.7 693.5C604.8 695.9 603.8 698.3 603 700.6C602.1 703 601.2 705.4 600.3 707.8C599.5 710.1 598.6 712.5 597.8 714.9C597 717.3 595.9 720.8 595.5 722" fill="none" stroke="#000" stroke-width="2.5" stroke-dasharray="4.8 5"/>
<path d="M738.4 17C737.9 18.2 736.5 21.7 735.5 24.1C734.5 26.5 733.5 28.9 732.4 31.2C731.4 33.6 730.3 36 729.2 38.4C728.1 40.7 727 43.1 725.9 45.5C724.8 47.9 723.7 50.2 722.5 52.6C721.4 55 720.2 57.4 719.1 59.7C717.9 62.1 716.8 64.5 715.6 66.8C714.4 69.2 713.3 71.6 712.1 74C711 76.3 709.8 78.7 708.7 81.1C707.6 83.5 706.4 85.8 705.3 88.2C704.2 90.6 703.1 93 702.1 95.3C701 97.7 699.9 100.1 698.9 102.5C697.9 104.8 696.9 107.2 695.9 109.6C695 111.9 694 114.3 693.1 116.7C692.2 119.1 691.3 121.4 690.5 123.8C689.7 126.2 688.9 128.6 688.2 130.9C687.4 133.3 686.7 135.7 686.1 138.1C685.4 140.4 684.8 142.8 684.3 145.2C683.8 147.6 683.3 149.9 682.8 152.3C682.4 154.7 682.1 157.1 681.8 159.4C681.5 161.8 681.3 164.2 681.3 166.5C681.2 168.9 681.2 171.3 681.3 173.7C681.5 176 681.7 178.4 682.1 180.8C682.5 183.2 683 185.5 683.6 187.9C684.3 190.3 685.1 192.7 686.1 195C687.1 197.4 688.2 199.8 689.5 202.2C690.8 204.5 692.3 206.9 693.9 209.3C695.4 211.6 697.1 214 698.8 216.4C700.5 218.8 702.3 221.1 704.1 223.5C705.9 225.9 707.7 228.3 709.6 230.6C711.6 233 713.6 235.4 715.7 237.8C717.9 240.1 720.2 242.5 722.5 244.9C724.8 247.3 727.2 249.6 729.6 252C732 254.4 734.4 256.7 736.7 259.1C739 261.5 741.3 263.9 743.5 266.2C745.7 268.6 747.8 271 749.9 273.4C752 275.7 754 278.1 755.9 280.5C757.8 282.9 759.7 285.2 761.4 287.6C763.2 290 764.8 292.4 766.4 294.7C767.9 297.1 769.4 299.5 770.7 301.8C772 304.2 773.3 306.6 774.4 309C775.5 311.3 776.5 313.7 777.3 316.1C778.2 318.5 778.9 320.8 779.4 323.2C780 325.6 780.4 328 780.7 330.3C781 332.7 781.1 335.1 781.1 337.5C781.1 339.8 780.9 342.2 780.6 344.6C780.4 346.9 780 349.3 779.5 351.7C779 354.1 778.4 356.4 777.8 358.8C777.1 361.2 776.4 363.6 775.6 365.9C774.8 368.3 774 370.7 773.1 373.1C772.2 375.4 771.2 377.8 770.3 380.2C769.3 382.6 768.3 384.9 767.3 387.3C766.3 389.7 765.3 392.1 764.2 394.4C763.2 396.8 762.1 399.2 761 401.5C759.9 403.9 758.8 406.3 757.6 408.7C756.5 411 755.3 413.4 754.1 415.8C752.8 418.2 751.6 420.5 750.3 422.9C749 425.3 747.7 427.7 746.3 430C745 432.4 743.6 434.8 742.2 437.2C740.8 439.5 739.4 441.9 737.9 444.3C736.5 446.6 735 449 733.6 451.4C732.1 453.8 730.7 456.1 729.2 458.5C727.7 460.9 726.3 463.3 724.8 465.6C723.4 468 722 470.4 720.6 472.8C719.2 475.1 717.8 477.5 716.4 479.9C715.1 482.3 713.7 484.6 712.4 487C711.1 489.4 709.8 491.7 708.5 494.1C707.2 496.5 705.9 498.9 704.6 501.2C703.4 503.6 702.1 506 700.8 508.4C699.5 510.7 698.3 513.1 697 515.5C695.7 517.9 694.4 520.2 693.1 522.6C691.8 525 690.5 527.4 689.2 529.7C688 532.1 686.7 534.5 685.4 536.8C684.1 539.2 682.8 541.6 681.4 544C680.1 546.3 678.8 548.7 677.5 551.1C676.2 553.5 674.9 555.8 673.6 558.2C672.3 560.6 671 563 669.7 565.3C668.4 567.7 667.1 570.1 665.8 572.5C664.5 574.8 663.2 577.2 661.9 579.6C660.6 581.9 659.3 584.3 658 586.7C656.7 589.1 655.4 591.4 654.1 593.8C652.8 596.2 651.6 598.6 650.3 600.9C649 603.3 647.7 605.7 646.5 608.1C645.2 610.4 643.9 612.8 642.7 615.2C641.4 617.6 640.2 619.9 638.9 622.3C637.7 624.7 636.4 627.1 635.2 629.4C634 631.8 632.8 634.2 631.5 636.5C630.3 638.9 629.1 641.3 627.9 643.7C626.8 646 625.6 648.4 624.4 650.8C623.3 653.2 622.1 655.5 621 657.9C619.8 660.3 618.7 662.7 617.6 665C616.5 667.4 615.4 669.8 614.4 672.2C613.3 674.5 612.3 676.9 611.2 679.3C610.2 681.6 609.2 684 608.2 686.4C607.2 688.8 606.3 691.1 605.3 693.5C604.4 695.9 603.5 698.3 602.6 700.6C601.7 703 600.8 705.4 600 707.8C599.1 710.1 598.3 712.5 597.5 714.9C596.8 717.3 595.7 720.8 595.3 722" fill="none" stroke="#3f45ad" stroke-width="5.3"/>
<path d="M744.6 17C744.1 18.2 742.6 21.7 741.6 24.1C740.5 26.5 739.5 28.9 738.5 31.2C737.4 33.6 736.3 36 735.3 38.4C734.2 40.7 733.1 43.1 732 45.5C730.9 47.9 729.8 50.2 728.8 52.6C727.7 55 726.6 57.4 725.5 59.7C724.4 62.1 723.3 64.5 722.2 66.8C721.1 69.2 720 71.6 718.9 74C717.8 76.3 716.8 78.7 715.7 81.1C714.6 83.5 713.6 85.8 712.6 88.2C711.5 90.6 710.5 93 709.5 95.3C708.5 97.7 707.5 100.1 706.6 102.5C705.6 104.8 704.6 107.2 703.7 109.6C702.8 111.9 701.9 114.3 701.1 116.7C700.2 119.1 699.3 121.4 698.5 123.8C697.7 126.2 697 128.6 696.2 130.9C695.5 133.3 694.8 135.7 694.1 138.1C693.4 140.4 692.8 142.8 692.2 145.2C691.6 147.6 691.1 149.9 690.6 152.3C690.1 154.7 689.6 157.1 689.2 159.4C688.8 161.8 688.5 164.2 688.2 166.5C687.9 168.9 687.7 171.3 687.5 173.7C687.4 176 687.3 178.4 687.2 180.8C687.2 183.2 687.2 185.5 687.4 187.9C687.5 190.3 687.7 192.7 688 195C688.2 197.4 688.6 199.8 689.1 202.2C689.5 204.5 690 206.9 690.7 209.3C691.3 211.6 692.1 214 692.9 216.4C693.7 218.8 694.6 221.1 695.6 223.5C696.6 225.9 697.6 228.3 698.8 230.6C699.9 233 701.1 235.4 702.4 237.8C703.6 240.1 705 242.5 706.3 244.9C707.7 247.3 709.2 249.6 710.6 252C712.1 254.4 713.6 256.7 715.2 259.1C716.7 261.5 718.3 263.9 719.9 266.2C721.5 268.6 723.2 271 724.8 273.4C726.5 275.7 728.2 278.1 729.8 280.5C731.5 282.9 733.2 285.2 734.8 287.6C736.5 290 738.1 292.4 739.7 294.7C741.2 297.1 742.7 299.5 744.1 301.8C745.5 304.2 746.8 306.6 748.1 309C749.3 311.3 750.5 313.7 751.6 316.1C752.6 318.5 753.6 320.8 754.5 323.2C755.4 325.6 756.1 328 756.8 330.3C757.4 332.7 758 335.1 758.4 337.5C758.8 339.8 759.2 342.2 759.4 344.6C759.6 346.9 759.8 349.3 759.8 351.7C759.9 354.1 759.9 356.4 759.8 358.8C759.7 361.2 759.5 363.6 759.2 365.9C759 368.3 758.7 370.7 758.3 373.1C757.9 375.4 757.5 377.8 757 380.2C756.6 382.6 756 384.9 755.5 387.3C754.9 389.7 754.3 392.1 753.6 394.4C752.9 396.8 752.2 399.2 751.5 401.5C750.7 403.9 749.9 406.3 749 408.7C748.2 411 747.3 413.4 746.3 415.8C745.4 418.2 744.4 420.5 743.3 422.9C742.3 425.3 741.1 427.7 740 430C738.9 432.4 737.7 434.8 736.4 437.2C735.2 439.5 734 441.9 732.7 444.3C731.4 446.6 730.1 449 728.8 451.4C727.5 453.8 726.2 456.1 724.8 458.5C723.5 460.9 722.2 463.3 720.9 465.6C719.6 468 718.2 470.4 716.9 472.8C715.6 475.1 714.4 477.5 713.1 479.9C711.8 482.3 710.6 484.6 709.4 487C708.2 489.4 707 491.7 705.7 494.1C704.5 496.5 703.4 498.9 702.2 501.2C701 503.6 699.8 506 698.6 508.4C697.4 510.7 696.2 513.1 695 515.5C693.8 517.9 692.6 520.2 691.4 522.6C690.2 525 689 527.4 687.7 529.7C686.5 532.1 685.3 534.5 684.1 536.8C682.8 539.2 681.6 541.6 680.4 544C679.1 546.3 677.9 548.7 676.6 551.1C675.4 553.5 674.1 555.8 672.9 558.2C671.6 560.6 670.4 563 669.1 565.3C667.9 567.7 666.6 570.1 665.4 572.5C664.1 574.8 662.9 577.2 661.6 579.6C660.4 581.9 659.1 584.3 657.8 586.7C656.6 589.1 655.3 591.4 654.1 593.8C652.8 596.2 651.6 598.6 650.3 600.9C649.1 603.3 647.8 605.7 646.6 608.1C645.3 610.4 644.1 612.8 642.9 615.2C641.6 617.6 640.4 619.9 639.2 622.3C637.9 624.7 636.7 627.1 635.5 629.4C634.3 631.8 633.1 634.2 631.9 636.5C630.6 638.9 629.5 641.3 628.3 643.7C627.1 646 625.9 648.4 624.7 650.8C623.6 653.2 622.4 655.5 621.3 657.9C620.2 660.3 619 662.7 617.9 665C616.8 667.4 615.7 669.8 614.7 672.2C613.6 674.5 612.5 676.9 611.5 679.3C610.5 681.6 609.5 684 608.5 686.4C607.5 688.8 606.5 691.1 605.6 693.5C604.6 695.9 603.7 698.3 602.8 700.6C601.9 703 601.1 705.4 600.2 707.8C599.4 710.1 598.6 712.5 597.8 714.9C597.1 717.3 596 720.8 595.6 722" fill="none" stroke="#e0261c" stroke-width="5.3"/>
</g>
<rect x="579.5" y="19.4" width="233.5" height="700" fill="none" stroke="#000" stroke-width="1.55"/>
<path d="M657.1 19.4v7.7M657.1 719.4v-7.7M735.6 19.4v7.7M735.6 719.4v-7.7" stroke="#000" stroke-width="1.55" fill="none"/>
<path d="M579.5 69.4h7.7M813 69.4h-7.7M579.5 194.4h7.7M813 194.4h-7.7M579.5 319.4h7.7M813 319.4h-7.7M579.5 444.4h7.7M813 444.4h-7.7M579.5 569.4h7.7M813 569.4h-7.7M579.5 694.4h7.7M813 694.4h-7.7" stroke="#000" stroke-width="1.55" fill="none"/>
<text x="567.4" y="78.2" font-size="29.2" text-anchor="end"  style="">1.7</text>
<text x="567.4" y="328.2" font-size="29.2" text-anchor="end"  style="">1.6</text>
<text x="567.4" y="578.2" font-size="29.2" text-anchor="end"  style="">1.5</text>
<text x="580.5" y="752.3" font-size="29.2" text-anchor="middle"  style="">1.6</text>
<text x="735.8" y="752.3" font-size="29.2" text-anchor="middle"  style="">1.8</text>
<text x="696.8" y="791.6" font-size="29.3" text-anchor="middle" font-style="italic">q<tspan font-size="20.5" dy="8" font-style="normal">1</tspan><tspan dy="-8" dx="0.8"> (k</tspan><tspan font-size="20.5" dy="8" font-style="normal">0</tspan><tspan dy="-8" dx="0.5" font-style="normal">)</tspan></text>
<text transform="translate(504.8 368.8) rotate(-90)" font-size="28.6" text-anchor="middle"><tspan font-style="italic">E</tspan> (eV)</text>
<text transform="translate(478.2 30.8) scale(1.05 1.01)" font-size="42.5" font-weight="bold">c</text>
<text x="585.2" y="286.2" font-size="20.4" font-style="italic">E<tspan font-size="14" dy="6.4" font-style="normal">x</tspan><tspan dy="-6.4" font-style="normal">’</tspan></text>
<path d="M614.5 280.2H676" stroke="#4048b0" stroke-width="1.5" fill="none"/><path d="M681.6 280.2l-10.8 -5.7l2.6 5.7l-2.6 5.7z" fill="#4048b0"/>
<text x="617" y="312.5" font-size="20.4" font-style="italic">E<tspan font-size="14" dy="6.4" font-style="normal">x</tspan></text>
<path d="M641 301.1H716" stroke="#000" stroke-width="1.5" stroke-dasharray="5.2 3.5" fill="none"/><path d="M722.8 301.1l-10.2 -5.7l2.6 5.7l-2.6 5.7z" fill="#000"/>
<rect x="688.7" y="563.6" width="105.2" height="115.2" fill="#fff" stroke="#000" stroke-width="2.8" stroke-dasharray="4.9 4.6"/>
<path d="M697.4 586.5H724.8" stroke="#3f45ad" stroke-width="5"/><path d="M695.6 627.6H723.5" stroke="#e0261c" stroke-width="5"/><path d="M694.8 662.5H720" stroke="#000" stroke-width="2.8" stroke-dasharray="5.2 4.8"/>
<text x="733.3" y="592" font-size="21" text-anchor="start"  style="">(I)</text>
<text x="733.3" y="633.1" font-size="21" text-anchor="start"  style="">(II)</text>
<text x="732.6" y="670.3" font-size="20.5" text-anchor="start"  style="">Static</text>
<clipPath id="clipD"><rect x="947.2" y="21.4" width="232.8" height="698.2"/></clipPath>
<g clip-path="url(#clipD)">
<path d="M1056.1 19C1056 20.5 1055.7 24.9 1055.6 27.9C1055.5 30.8 1055.4 33.8 1055.4 36.8C1055.3 39.7 1055.3 42.7 1055.4 45.7C1055.4 48.6 1055.5 51.6 1055.6 54.5C1055.7 57.5 1055.8 60.5 1056 63.4C1056.2 66.4 1056.4 69.4 1056.7 72.3C1056.9 75.3 1057.2 78.2 1057.5 81.2C1057.8 84.2 1058.1 87.1 1058.5 90.1C1058.9 93.1 1059.3 96 1059.7 99C1060.2 101.9 1060.6 104.9 1061.1 107.9C1061.6 110.8 1062.1 113.8 1062.7 116.7C1063.3 119.7 1063.9 122.7 1064.6 125.6C1065.3 128.6 1066.1 131.6 1067 134.5C1067.9 137.5 1068.9 140.4 1070 143.4C1071.1 146.4 1072.3 149.3 1073.8 152.3C1075.2 155.3 1076.7 158.2 1078.4 161.2C1080.1 164.1 1082 167.1 1084.1 170.1C1086.2 173 1088.5 176 1091 178.9C1093.5 181.9 1096.3 184.9 1099.2 187.8C1102 190.8 1105.1 193.8 1108.2 196.7C1111.3 199.7 1114.5 202.6 1117.6 205.6C1120.7 208.6 1123.9 211.5 1127 214.5C1130 217.5 1133 220.4 1135.7 223.4C1138.5 226.3 1141.1 229.3 1143.4 232.3C1145.8 235.2 1147.9 238.2 1149.7 241.2C1151.4 244.1 1152.8 247.1 1153.9 250C1155 253 1155.7 256 1156.2 258.9C1156.6 261.9 1156.7 264.8 1156.5 267.8C1156.3 270.8 1155.8 273.7 1155 276.7C1154.2 279.7 1153.1 282.6 1151.7 285.6C1150.3 288.5 1148.7 291.5 1146.7 294.5C1144.8 297.4 1142.6 300.4 1140.1 303.4C1137.6 306.3 1134.8 309.3 1131.9 312.2C1128.9 315.2 1125.7 318.2 1122.4 321.1C1119.1 324.1 1115.6 327.1 1112.2 330C1108.7 333 1105.2 335.9 1101.8 338.9C1098.5 341.9 1095.1 344.8 1092 347.8C1088.9 350.7 1085.9 353.7 1083.2 356.7C1080.6 359.6 1078.2 362.6 1076 365.6C1073.9 368.5 1072 371.5 1070.2 374.4C1068.4 377.4 1066.8 380.4 1065.3 383.3C1063.9 386.3 1062.6 389.3 1061.4 392.2C1060.2 395.2 1059.2 398.1 1058.2 401.1C1057.3 404.1 1056.5 407 1055.7 410C1055 412.9 1054.4 415.9 1053.9 418.9C1053.3 421.8 1052.9 424.8 1052.5 427.8C1052.1 430.7 1051.9 433.7 1051.6 436.6C1051.3 439.6 1051.2 442.6 1051 445.5C1050.8 448.5 1050.7 451.5 1050.6 454.4C1050.5 457.4 1050.4 460.3 1050.4 463.3C1050.3 466.3 1050.3 469.2 1050.2 472.2C1050.2 475.2 1050.2 478.1 1050.2 481.1C1050.2 484 1050.2 487 1050.2 490C1050.2 492.9 1050.2 495.9 1050.3 498.8C1050.3 501.8 1050.4 504.8 1050.4 507.7C1050.5 510.7 1050.5 513.7 1050.6 516.6C1050.7 519.6 1050.8 522.5 1050.9 525.5C1051 528.5 1051.1 531.4 1051.2 534.4C1051.3 537.4 1051.4 540.3 1051.5 543.3C1051.6 546.2 1051.8 549.2 1051.9 552.2C1052 555.1 1052.1 558.1 1052.3 561.1C1052.4 564 1052.6 567 1052.7 569.9C1052.9 572.9 1053 575.9 1053.2 578.8C1053.3 581.8 1053.5 584.7 1053.6 587.7C1053.8 590.7 1053.9 593.6 1054.1 596.6C1054.3 599.6 1054.4 602.5 1054.6 605.5C1054.7 608.4 1054.9 611.4 1055 614.4C1055.2 617.3 1055.3 620.3 1055.5 623.3C1055.6 626.2 1055.8 629.2 1055.9 632.1C1056.1 635.1 1056.2 638.1 1056.4 641C1056.5 644 1056.6 646.9 1056.8 649.9C1056.9 652.9 1057 655.8 1057.1 658.8C1057.2 661.8 1057.3 664.7 1057.4 667.7C1057.5 670.6 1057.6 673.6 1057.7 676.6C1057.8 679.5 1057.9 682.5 1058 685.5C1058 688.4 1058.1 691.4 1058.1 694.3C1058.2 697.3 1058.2 700.3 1058.3 703.2C1058.3 706.2 1058.3 709.2 1058.3 712.1C1058.3 715.1 1058.3 719.5 1058.3 721L1063.6 721L1063.6 19Z" fill="#4a50b8" fill-opacity="0.42"/>
<path d="M1078.5 19C1078.6 20.5 1079.1 24.9 1079.4 27.9C1079.8 30.8 1080.1 33.8 1080.5 36.8C1080.9 39.7 1081.4 42.7 1081.8 45.7C1082.3 48.6 1082.7 51.6 1083.2 54.5C1083.7 57.5 1084.2 60.5 1084.8 63.4C1085.3 66.4 1085.9 69.4 1086.4 72.3C1087 75.3 1087.6 78.2 1088.2 81.2C1088.8 84.2 1089.4 87.1 1090 90.1C1090.6 93.1 1091.2 96 1091.9 99C1092.5 101.9 1093.2 104.9 1093.8 107.9C1094.5 110.8 1095.1 113.8 1095.8 116.7C1096.4 119.7 1097.1 122.7 1097.8 125.6C1098.4 128.6 1099.1 131.6 1099.7 134.5C1100.4 137.5 1101.1 140.4 1101.7 143.4C1102.4 146.4 1103 149.3 1103.7 152.3C1104.3 155.3 1104.9 158.2 1105.4 161.2C1105.9 164.1 1106.4 167.1 1106.8 170.1C1107.2 173 1107.5 176 1107.8 178.9C1108 181.9 1108.1 184.9 1108.1 187.8C1108.2 190.8 1108.1 193.8 1107.8 196.7C1107.5 199.7 1107.2 202.6 1106.6 205.6C1106 208.6 1105.3 211.5 1104.4 214.5C1103.5 217.5 1102.5 220.4 1101.3 223.4C1100 226.3 1098.6 229.3 1097 232.3C1095.4 235.2 1093.6 238.2 1091.6 241.2C1089.6 244.1 1087.4 247.1 1085 250C1082.6 253 1079.9 256 1077.1 258.9C1074.4 261.9 1071.4 264.8 1068.4 267.8C1065.4 270.8 1062.3 273.7 1059.1 276.7C1056 279.7 1052.8 282.6 1049.7 285.6C1046.6 288.5 1043.5 291.5 1040.6 294.5C1037.6 297.4 1034.8 300.4 1032.2 303.4C1029.6 306.3 1027.1 309.3 1025 312.2C1022.8 315.2 1020.9 318.2 1019.3 321.1C1017.7 324.1 1016.3 327.1 1015.3 330C1014.2 333 1013.4 335.9 1012.9 338.9C1012.4 341.9 1012.1 344.8 1012 347.8C1012 350.7 1012.1 353.7 1012.4 356.7C1012.7 359.6 1013.2 362.6 1013.7 365.6C1014.3 368.5 1015 371.5 1015.7 374.4C1016.4 377.4 1017.1 380.4 1017.9 383.3C1018.7 386.3 1019.5 389.3 1020.3 392.2C1021.1 395.2 1022 398.1 1022.8 401.1C1023.7 404.1 1024.5 407 1025.4 410C1026.2 412.9 1027.1 415.9 1027.9 418.9C1028.8 421.8 1029.7 424.8 1030.5 427.8C1031.4 430.7 1032.2 433.7 1033 436.6C1033.9 439.6 1034.7 442.6 1035.5 445.5C1036.3 448.5 1037.1 451.5 1037.8 454.4C1038.6 457.4 1039.3 460.3 1040 463.3C1040.7 466.3 1041.4 469.2 1042 472.2C1042.7 475.2 1043.2 478.1 1043.8 481.1C1044.4 484 1044.9 487 1045.4 490C1045.9 492.9 1046.4 495.9 1046.9 498.8C1047.3 501.8 1047.8 504.8 1048.2 507.7C1048.6 510.7 1049 513.7 1049.3 516.6C1049.7 519.6 1050.1 522.5 1050.4 525.5C1050.8 528.5 1051.1 531.4 1051.4 534.4C1051.8 537.4 1052.1 540.3 1052.4 543.3C1052.7 546.2 1053 549.2 1053.4 552.2C1053.7 555.1 1054 558.1 1054.3 561.1C1054.6 564 1054.9 567 1055.3 569.9C1055.6 572.9 1055.9 575.9 1056.2 578.8C1056.5 581.8 1056.8 584.7 1057.1 587.7C1057.4 590.7 1057.7 593.6 1058 596.6C1058.2 599.6 1058.5 602.5 1058.7 605.5C1059 608.4 1059.2 611.4 1059.4 614.4C1059.6 617.3 1059.8 620.3 1059.9 623.3C1060 626.2 1060.2 629.2 1060.3 632.1C1060.3 635.1 1060.4 638.1 1060.4 641C1060.4 644 1060.4 646.9 1060.4 649.9C1060.3 652.9 1060.2 655.8 1060.1 658.8C1060 661.8 1059.9 664.7 1059.7 667.7C1059.6 670.6 1059.4 673.6 1059.3 676.6C1059.2 679.5 1059 682.5 1059 685.5C1058.9 688.4 1058.9 691.4 1058.9 694.3C1058.9 697.3 1059 700.3 1059.2 703.2C1059.3 706.2 1059.6 709.2 1059.9 712.1C1060.3 715.1 1061.1 719.5 1061.3 721L1063.6 721L1063.6 19Z" fill="#e03020" fill-opacity="0.42"/>
<path d="M1063.6 19V721" stroke="#000" stroke-width="2.7" stroke-dasharray="5 5" stroke-dashoffset="2"/>
<path d="M1078.5 19C1078.6 20.5 1079.1 24.9 1079.4 27.9C1079.8 30.8 1080.1 33.8 1080.5 36.8C1080.9 39.7 1081.4 42.7 1081.8 45.7C1082.3 48.6 1082.7 51.6 1083.2 54.5C1083.7 57.5 1084.2 60.5 1084.8 63.4C1085.3 66.4 1085.9 69.4 1086.4 72.3C1087 75.3 1087.6 78.2 1088.2 81.2C1088.8 84.2 1089.4 87.1 1090 90.1C1090.6 93.1 1091.2 96 1091.9 99C1092.5 101.9 1093.2 104.9 1093.8 107.9C1094.5 110.8 1095.1 113.8 1095.8 116.7C1096.4 119.7 1097.1 122.7 1097.8 125.6C1098.4 128.6 1099.1 131.6 1099.7 134.5C1100.4 137.5 1101.1 140.4 1101.7 143.4C1102.4 146.4 1103 149.3 1103.7 152.3C1104.3 155.3 1104.9 158.2 1105.4 161.2C1105.9 164.1 1106.4 167.1 1106.8 170.1C1107.2 173 1107.5 176 1107.8 178.9C1108 181.9 1108.1 184.9 1108.1 187.8C1108.2 190.8 1108.1 193.8 1107.8 196.7C1107.5 199.7 1107.2 202.6 1106.6 205.6C1106 208.6 1105.3 211.5 1104.4 214.5C1103.5 217.5 1102.5 220.4 1101.3 223.4C1100 226.3 1098.6 229.3 1097 232.3C1095.4 235.2 1093.6 238.2 1091.6 241.2C1089.6 244.1 1087.4 247.1 1085 250C1082.6 253 1079.9 256 1077.1 258.9C1074.4 261.9 1071.4 264.8 1068.4 267.8C1065.4 270.8 1062.3 273.7 1059.1 276.7C1056 279.7 1052.8 282.6 1049.7 285.6C1046.6 288.5 1043.5 291.5 1040.6 294.5C1037.6 297.4 1034.8 300.4 1032.2 303.4C1029.6 306.3 1027.1 309.3 1025 312.2C1022.8 315.2 1020.9 318.2 1019.3 321.1C1017.7 324.1 1016.3 327.1 1015.3 330C1014.2 333 1013.4 335.9 1012.9 338.9C1012.4 341.9 1012.1 344.8 1012 347.8C1012 350.7 1012.1 353.7 1012.4 356.7C1012.7 359.6 1013.2 362.6 1013.7 365.6C1014.3 368.5 1015 371.5 1015.7 374.4C1016.4 377.4 1017.1 380.4 1017.9 383.3C1018.7 386.3 1019.5 389.3 1020.3 392.2C1021.1 395.2 1022 398.1 1022.8 401.1C1023.7 404.1 1024.5 407 1025.4 410C1026.2 412.9 1027.1 415.9 1027.9 418.9C1028.8 421.8 1029.7 424.8 1030.5 427.8C1031.4 430.7 1032.2 433.7 1033 436.6C1033.9 439.6 1034.7 442.6 1035.5 445.5C1036.3 448.5 1037.1 451.5 1037.8 454.4C1038.6 457.4 1039.3 460.3 1040 463.3C1040.7 466.3 1041.4 469.2 1042 472.2C1042.7 475.2 1043.2 478.1 1043.8 481.1C1044.4 484 1044.9 487 1045.4 490C1045.9 492.9 1046.4 495.9 1046.9 498.8C1047.3 501.8 1047.8 504.8 1048.2 507.7C1048.6 510.7 1049 513.7 1049.3 516.6C1049.7 519.6 1050.1 522.5 1050.4 525.5C1050.8 528.5 1051.1 531.4 1051.4 534.4C1051.8 537.4 1052.1 540.3 1052.4 543.3C1052.7 546.2 1053 549.2 1053.4 552.2C1053.7 555.1 1054 558.1 1054.3 561.1C1054.6 564 1054.9 567 1055.3 569.9C1055.6 572.9 1055.9 575.9 1056.2 578.8C1056.5 581.8 1056.8 584.7 1057.1 587.7C1057.4 590.7 1057.7 593.6 1058 596.6C1058.2 599.6 1058.5 602.5 1058.7 605.5C1059 608.4 1059.2 611.4 1059.4 614.4C1059.6 617.3 1059.8 620.3 1059.9 623.3C1060 626.2 1060.2 629.2 1060.3 632.1C1060.3 635.1 1060.4 638.1 1060.4 641C1060.4 644 1060.4 646.9 1060.4 649.9C1060.3 652.9 1060.2 655.8 1060.1 658.8C1060 661.8 1059.9 664.7 1059.7 667.7C1059.6 670.6 1059.4 673.6 1059.3 676.6C1059.2 679.5 1059 682.5 1059 685.5C1058.9 688.4 1058.9 691.4 1058.9 694.3C1058.9 697.3 1059 700.3 1059.2 703.2C1059.3 706.2 1059.6 709.2 1059.9 712.1C1060.3 715.1 1061.1 719.5 1061.3 721" fill="none" stroke="#e0261c" stroke-width="5.2"/>
<path d="M1056.1 19C1056 20.5 1055.7 24.9 1055.6 27.9C1055.5 30.8 1055.4 33.8 1055.4 36.8C1055.3 39.7 1055.3 42.7 1055.4 45.7C1055.4 48.6 1055.5 51.6 1055.6 54.5C1055.7 57.5 1055.8 60.5 1056 63.4C1056.2 66.4 1056.4 69.4 1056.7 72.3C1056.9 75.3 1057.2 78.2 1057.5 81.2C1057.8 84.2 1058.1 87.1 1058.5 90.1C1058.9 93.1 1059.3 96 1059.7 99C1060.2 101.9 1060.6 104.9 1061.1 107.9C1061.6 110.8 1062.1 113.8 1062.7 116.7C1063.3 119.7 1063.9 122.7 1064.6 125.6C1065.3 128.6 1066.1 131.6 1067 134.5C1067.9 137.5 1068.9 140.4 1070 143.4C1071.1 146.4 1072.3 149.3 1073.8 152.3C1075.2 155.3 1076.7 158.2 1078.4 161.2C1080.1 164.1 1082 167.1 1084.1 170.1C1086.2 173 1088.5 176 1091 178.9C1093.5 181.9 1096.3 184.9 1099.2 187.8C1102 190.8 1105.1 193.8 1108.2 196.7C1111.3 199.7 1114.5 202.6 1117.6 205.6C1120.7 208.6 1123.9 211.5 1127 214.5C1130 217.5 1133 220.4 1135.7 223.4C1138.5 226.3 1141.1 229.3 1143.4 232.3C1145.8 235.2 1147.9 238.2 1149.7 241.2C1151.4 244.1 1152.8 247.1 1153.9 250C1155 253 1155.7 256 1156.2 258.9C1156.6 261.9 1156.7 264.8 1156.5 267.8C1156.3 270.8 1155.8 273.7 1155 276.7C1154.2 279.7 1153.1 282.6 1151.7 285.6C1150.3 288.5 1148.7 291.5 1146.7 294.5C1144.8 297.4 1142.6 300.4 1140.1 303.4C1137.6 306.3 1134.8 309.3 1131.9 312.2C1128.9 315.2 1125.7 318.2 1122.4 321.1C1119.1 324.1 1115.6 327.1 1112.2 330C1108.7 333 1105.2 335.9 1101.8 338.9C1098.5 341.9 1095.1 344.8 1092 347.8C1088.9 350.7 1085.9 353.7 1083.2 356.7C1080.6 359.6 1078.2 362.6 1076 365.6C1073.9 368.5 1072 371.5 1070.2 374.4C1068.4 377.4 1066.8 380.4 1065.3 383.3C1063.9 386.3 1062.6 389.3 1061.4 392.2C1060.2 395.2 1059.2 398.1 1058.2 401.1C1057.3 404.1 1056.5 407 1055.7 410C1055 412.9 1054.4 415.9 1053.9 418.9C1053.3 421.8 1052.9 424.8 1052.5 427.8C1052.1 430.7 1051.9 433.7 1051.6 436.6C1051.3 439.6 1051.2 442.6 1051 445.5C1050.8 448.5 1050.7 451.5 1050.6 454.4C1050.5 457.4 1050.4 460.3 1050.4 463.3C1050.3 466.3 1050.3 469.2 1050.2 472.2C1050.2 475.2 1050.2 478.1 1050.2 481.1C1050.2 484 1050.2 487 1050.2 490C1050.2 492.9 1050.2 495.9 1050.3 498.8C1050.3 501.8 1050.4 504.8 1050.4 507.7C1050.5 510.7 1050.5 513.7 1050.6 516.6C1050.7 519.6 1050.8 522.5 1050.9 525.5C1051 528.5 1051.1 531.4 1051.2 534.4C1051.3 537.4 1051.4 540.3 1051.5 543.3C1051.6 546.2 1051.8 549.2 1051.9 552.2C1052 555.1 1052.1 558.1 1052.3 561.1C1052.4 564 1052.6 567 1052.7 569.9C1052.9 572.9 1053 575.9 1053.2 578.8C1053.3 581.8 1053.5 584.7 1053.6 587.7C1053.8 590.7 1053.9 593.6 1054.1 596.6C1054.3 599.6 1054.4 602.5 1054.6 605.5C1054.7 608.4 1054.9 611.4 1055 614.4C1055.2 617.3 1055.3 620.3 1055.5 623.3C1055.6 626.2 1055.8 629.2 1055.9 632.1C1056.1 635.1 1056.2 638.1 1056.4 641C1056.5 644 1056.6 646.9 1056.8 649.9C1056.9 652.9 1057 655.8 1057.1 658.8C1057.2 661.8 1057.3 664.7 1057.4 667.7C1057.5 670.6 1057.6 673.6 1057.7 676.6C1057.8 679.5 1057.9 682.5 1058 685.5C1058 688.4 1058.1 691.4 1058.1 694.3C1058.2 697.3 1058.2 700.3 1058.3 703.2C1058.3 706.2 1058.3 709.2 1058.3 712.1C1058.3 715.1 1058.3 719.5 1058.3 721" fill="none" stroke="#3a2f9e" stroke-width="5.2"/>
</g>
<rect x="947.2" y="21.4" width="232.8" height="698.2" fill="none" stroke="#000" stroke-width="1.55"/>
<path d="M1005.4 21.4v7.7M1005.4 719.7v-7.7M1063.6 21.4v7.7M1063.6 719.7v-7.7M1121.7 21.4v7.7M1121.7 719.7v-7.7" stroke="#000" stroke-width="1.55" fill="none"/>
<path d="M947.2 71.4h7.7M1180 71.4h-7.7M947.2 196.1h7.7M1180 196.1h-7.7M947.2 320.8h7.7M1180 320.8h-7.7M947.2 445.4h7.7M1180 445.4h-7.7M947.2 570.1h7.7M1180 570.1h-7.7M947.2 694.8h7.7M1180 694.8h-7.7" stroke="#000" stroke-width="1.55" fill="none"/>
<text x="935.2" y="80.1" font-size="29.2" text-anchor="end"  style="">1.7</text>
<text x="935.2" y="329.5" font-size="29.2" text-anchor="end"  style="">1.6</text>
<text x="935.2" y="578.9" font-size="29.2" text-anchor="end"  style="">1.5</text>
<text x="947" y="753.6" font-size="29.2" text-anchor="middle"  style="">–0.04</text>
<text x="1063.4" y="753.6" font-size="29.2" text-anchor="middle"  style="">0</text>
<text x="1179.4" y="753.6" font-size="29.2" text-anchor="middle"  style="">0.04</text>
<text x="1063.3" y="795" font-size="29.3" text-anchor="middle"><tspan font-family="Liberation Serif,serif">δ</tspan><tspan font-style="italic" dx="0.8">q</tspan><tspan font-size="20.5" dy="8">1</tspan><tspan dy="-8" font-style="italic" dx="0.8"> (k</tspan><tspan font-size="20.5" dy="8">0</tspan><tspan dy="-8" dx="0.5">)</tspan></text>
<text transform="translate(873.2 370.2) rotate(-90)" font-size="28.6" text-anchor="middle"><tspan font-style="italic">E</tspan> (eV)</text>
<text transform="translate(847.6 30.8) scale(1.05 1.01)" font-size="42.5" font-weight="bold">d</text>
<rect x="1080.7" y="572.8" width="80.7" height="82.2" fill="#fff" stroke="#000" stroke-width="2.8" stroke-dasharray="4.9 4.6"/>
<path d="M1091.8 595.2H1119.6" stroke="#3f45ad" stroke-width="5"/><path d="M1091.8 636.6H1119.6" stroke="#e0261c" stroke-width="5"/>
<text x="1128" y="600.8" font-size="21" text-anchor="start"  style="">(i)</text>
<text x="1128" y="642.3" font-size="21" text-anchor="start"  style="">(ii)</text>
<clipPath id="clipE"><rect x="1326.9" y="22.4" width="232.2" height="697.2"/></clipPath>
<g clip-path="url(#clipE)">
<path d="M1394.3 19C1394.5 20.3 1395 24.3 1395.4 26.9C1395.8 29.5 1396.1 32.1 1396.5 34.8C1396.8 37.4 1397.2 40 1397.5 42.7C1397.9 45.3 1398.2 47.9 1398.6 50.6C1399 53.2 1399.3 55.8 1399.7 58.4C1400.1 61.1 1400.4 63.7 1400.8 66.3C1401.2 69 1401.6 71.6 1402 74.2C1402.3 76.8 1402.8 79.5 1403.2 82.1C1403.6 84.7 1404 87.4 1404.4 90C1404.9 92.6 1405.3 95.2 1405.8 97.9C1406.3 100.5 1406.8 103.1 1407.3 105.8C1407.8 108.4 1408.3 111 1408.8 113.7C1409.4 116.3 1409.9 118.9 1410.5 121.5C1411.1 124.2 1411.7 126.8 1412.3 129.4C1412.9 132.1 1413.6 134.7 1414.2 137.3C1414.8 139.9 1415.5 142.6 1416.1 145.2C1416.7 147.8 1417.3 150.5 1417.8 153.1C1418.4 155.7 1418.9 158.3 1419.4 161C1419.9 163.6 1420.3 166.2 1420.7 168.9C1421.1 171.5 1421.4 174.1 1421.6 176.8C1421.9 179.4 1422 182 1422.1 184.6C1422.1 187.3 1422.1 189.9 1422 192.5C1421.9 195.2 1421.6 197.8 1421.3 200.4C1420.9 203 1420.4 205.7 1419.8 208.3C1419.2 210.9 1418.4 213.6 1417.5 216.2C1416.6 218.8 1415.6 221.4 1414.3 224.1C1413.1 226.7 1411.7 229.3 1410.1 232C1408.5 234.6 1406.7 237.2 1404.8 239.9C1402.8 242.5 1400.6 245.1 1398.4 247.7C1396.1 250.4 1393.6 253 1391.1 255.6C1388.6 258.3 1385.9 260.9 1383.2 263.5C1380.5 266.1 1377.7 268.8 1375 271.4C1372.3 274 1369.5 276.7 1366.9 279.3C1364.3 281.9 1361.7 284.6 1359.3 287.2C1356.9 289.8 1354.6 292.4 1352.5 295.1C1350.4 297.7 1348.5 300.3 1346.8 303C1345 305.6 1343.5 308.2 1342.1 310.8C1340.7 313.5 1339.5 316.1 1338.5 318.7C1337.5 321.4 1336.6 324 1336 326.6C1335.4 329.2 1335 331.9 1334.7 334.5C1334.5 337.1 1334.5 339.8 1334.6 342.4C1334.7 345 1335 347.7 1335.3 350.3C1335.7 352.9 1336.2 355.5 1336.7 358.2C1337.3 360.8 1337.9 363.4 1338.6 366.1C1339.2 368.7 1340 371.3 1340.7 373.9C1341.5 376.6 1342.2 379.2 1343.1 381.8C1343.9 384.5 1344.7 387.1 1345.6 389.7C1346.4 392.3 1347.3 395 1348.2 397.6C1349.1 400.2 1350 402.9 1350.8 405.5C1351.7 408.1 1352.6 410.8 1353.5 413.4C1354.3 416 1355.2 418.6 1356 421.3C1356.8 423.9 1357.6 426.5 1358.4 429.2C1359.2 431.8 1359.9 434.4 1360.7 437C1361.4 439.7 1362.1 442.3 1362.8 444.9C1363.5 447.6 1364.2 450.2 1364.8 452.8C1365.5 455.4 1366.1 458.1 1366.7 460.7C1367.4 463.3 1368 466 1368.5 468.6C1369.1 471.2 1369.7 473.9 1370.2 476.5C1370.8 479.1 1371.3 481.7 1371.8 484.4C1372.3 487 1372.8 489.6 1373.3 492.3C1373.8 494.9 1374.2 497.5 1374.7 500.1C1375.1 502.8 1375.6 505.4 1376 508C1376.4 510.7 1376.8 513.3 1377.2 515.9C1377.6 518.6 1378 521.2 1378.4 523.8C1378.8 526.4 1379.1 529.1 1379.5 531.7C1379.8 534.3 1380.2 537 1380.5 539.6C1380.8 542.2 1381.1 544.8 1381.4 547.5C1381.8 550.1 1382.1 552.7 1382.4 555.4C1382.6 558 1382.9 560.6 1383.2 563.2C1383.5 565.9 1383.8 568.5 1384 571.1C1384.3 573.8 1384.5 576.4 1384.8 579C1385 581.7 1385.3 584.3 1385.5 586.9C1385.8 589.5 1386 592.2 1386.2 594.8C1386.5 597.4 1386.7 600.1 1386.9 602.7C1387.2 605.3 1387.4 607.9 1387.6 610.6C1387.8 613.2 1388 615.8 1388.2 618.5C1388.5 621.1 1388.7 623.7 1388.9 626.3C1389.1 629 1389.3 631.6 1389.5 634.2C1389.8 636.9 1390 639.5 1390.2 642.1C1390.4 644.8 1390.6 647.4 1390.8 650C1391.1 652.6 1391.3 655.3 1391.5 657.9C1391.7 660.5 1392 663.2 1392.2 665.8C1392.4 668.4 1392.7 671 1392.9 673.7C1393.1 676.3 1393.4 678.9 1393.6 681.6C1393.9 684.2 1394.1 686.8 1394.4 689.4C1394.7 692.1 1394.9 694.7 1395.2 697.3C1395.5 700 1395.8 702.6 1396.1 705.2C1396.4 707.9 1396.7 710.5 1397 713.1C1397.3 715.7 1397.8 719.7 1397.9 721" fill="none" stroke="#e2301f" stroke-width="5"/>
<path d="M1395 19C1395.2 20.3 1395.8 24.3 1396.2 26.9C1396.6 29.5 1397 32.1 1397.4 34.8C1397.8 37.4 1398.2 40 1398.6 42.7C1399 45.3 1399.4 47.9 1399.9 50.6C1400.3 53.2 1400.8 55.8 1401.3 58.4C1401.7 61.1 1402.2 63.7 1402.7 66.3C1403.3 69 1403.8 71.6 1404.4 74.2C1404.9 76.8 1405.5 79.5 1406.2 82.1C1406.8 84.7 1407.4 87.4 1408.1 90C1408.8 92.6 1409.5 95.2 1410.3 97.9C1411 100.5 1411.8 103.1 1412.6 105.8C1413.5 108.4 1414.3 111 1415.3 113.7C1416.2 116.3 1417.1 118.9 1418.2 121.5C1419.2 124.2 1420.3 126.8 1421.4 129.4C1422.6 132.1 1423.8 134.7 1425.2 137.3C1426.5 139.9 1428 142.6 1429.5 145.2C1431 147.8 1432.7 150.5 1434.4 153.1C1436.1 155.7 1437.9 158.3 1439.7 161C1441.5 163.6 1443.3 166.2 1445.2 168.9C1447 171.5 1448.9 174.1 1450.7 176.8C1452.6 179.4 1454.5 182 1456.4 184.6C1458.3 187.3 1460.2 189.9 1462.1 192.5C1464 195.2 1465.9 197.8 1467.8 200.4C1469.7 203 1471.5 205.7 1473.3 208.3C1475 210.9 1476.7 213.6 1478.1 216.2C1479.6 218.8 1481 221.4 1482.1 224.1C1483.2 226.7 1484.2 229.3 1484.8 232C1485.4 234.6 1485.9 237.2 1486 239.9C1486 242.5 1485.8 245.1 1485.2 247.7C1484.7 250.4 1483.7 253 1482.5 255.6C1481.2 258.3 1479.6 260.9 1477.6 263.5C1475.7 266.1 1473.3 268.8 1470.8 271.4C1468.2 274 1465.4 276.7 1462.4 279.3C1459.4 281.9 1456.2 284.6 1452.9 287.2C1449.6 289.8 1446.2 292.4 1442.8 295.1C1439.3 297.7 1435.8 300.3 1432.4 303C1429 305.6 1425.5 308.2 1422.2 310.8C1418.9 313.5 1415.6 316.1 1412.5 318.7C1409.4 321.4 1406.4 324 1403.6 326.6C1400.9 329.2 1398.2 331.9 1395.8 334.5C1393.3 337.1 1391 339.8 1388.9 342.4C1386.8 345 1384.9 347.7 1383.1 350.3C1381.3 352.9 1379.7 355.5 1378.3 358.2C1376.8 360.8 1375.5 363.4 1374.3 366.1C1373.2 368.7 1372.1 371.3 1371.2 373.9C1370.3 376.6 1369.6 379.2 1368.9 381.8C1368.2 384.5 1367.7 387.1 1367.3 389.7C1366.8 392.3 1366.5 395 1366.2 397.6C1365.9 400.2 1365.8 402.9 1365.7 405.5C1365.6 408.1 1365.6 410.8 1365.6 413.4C1365.6 416 1365.7 418.6 1365.9 421.3C1366 423.9 1366.2 426.5 1366.5 429.2C1366.7 431.8 1367 434.4 1367.3 437C1367.6 439.7 1367.9 442.3 1368.3 444.9C1368.6 447.6 1369 450.2 1369.4 452.8C1369.8 455.4 1370.2 458.1 1370.6 460.7C1371 463.3 1371.4 466 1371.9 468.6C1372.3 471.2 1372.7 473.9 1373.1 476.5C1373.5 479.1 1373.8 481.7 1374.2 484.4C1374.6 487 1375 489.6 1375.3 492.3C1375.7 494.9 1376 497.5 1376.4 500.1C1376.7 502.8 1377 505.4 1377.4 508C1377.7 510.7 1378 513.3 1378.3 515.9C1378.6 518.6 1378.9 521.2 1379.2 523.8C1379.5 526.4 1379.8 529.1 1380.1 531.7C1380.4 534.3 1380.7 537 1381 539.6C1381.3 542.2 1381.6 544.8 1381.9 547.5C1382.1 550.1 1382.4 552.7 1382.7 555.4C1383 558 1383.3 560.6 1383.6 563.2C1383.8 565.9 1384.1 568.5 1384.4 571.1C1384.7 573.8 1384.9 576.4 1385.2 579C1385.5 581.7 1385.8 584.3 1386 586.9C1386.3 589.5 1386.6 592.2 1386.8 594.8C1387.1 597.4 1387.4 600.1 1387.6 602.7C1387.9 605.3 1388.2 607.9 1388.4 610.6C1388.7 613.2 1389 615.8 1389.2 618.5C1389.5 621.1 1389.8 623.7 1390 626.3C1390.3 629 1390.5 631.6 1390.8 634.2C1391.1 636.9 1391.3 639.5 1391.6 642.1C1391.8 644.8 1392.1 647.4 1392.4 650C1392.6 652.6 1392.9 655.3 1393.1 657.9C1393.4 660.5 1393.6 663.2 1393.9 665.8C1394.2 668.4 1394.4 671 1394.7 673.7C1394.9 676.3 1395.2 678.9 1395.4 681.6C1395.7 684.2 1395.9 686.8 1396.2 689.4C1396.4 692.1 1396.7 694.7 1397 697.3C1397.2 700 1397.5 702.6 1397.7 705.2C1398 707.9 1398.2 710.5 1398.5 713.1C1398.7 715.7 1399.1 719.7 1399.3 721" fill="none" stroke="#3c31a0" stroke-width="5"/>
</g>
<rect x="1326.9" y="22.4" width="232.2" height="697.2" fill="none" stroke="#000" stroke-width="1.55"/>
<path d="M1384.7 22.4v7.7M1384.7 719.6v-7.7M1442.7 22.4v7.7M1442.7 719.6v-7.7M1500.9 22.4v7.7M1500.9 719.6v-7.7" stroke="#000" stroke-width="1.55" fill="none"/>
<path d="M1326.9 72.2h7.7M1559.1 72.2h-7.7M1326.9 196.7h7.7M1559.1 196.7h-7.7M1326.9 321.2h7.7M1559.1 321.2h-7.7M1326.9 445.8h7.7M1559.1 445.8h-7.7M1326.9 570.3h7.7M1559.1 570.3h-7.7M1326.9 694.8h7.7M1559.1 694.8h-7.7" stroke="#000" stroke-width="1.55" fill="none"/>
<use href="#sB" transform="translate(1426.9 75.3) scale(8.9)"/>
<use href="#sB" transform="translate(1416.3 133) scale(8.9)"/>
<use href="#sB" transform="translate(1434.1 188) scale(8.9)"/>
<use href="#sB" transform="translate(1427.3 242.3) scale(8.9)"/>
<use href="#sB" transform="translate(1463.8 294.5) scale(8.9)"/>
<use href="#sB" transform="translate(1390.7 345.8) scale(8.9)"/>
<use href="#sB" transform="translate(1364.1 444.9) scale(8.9)"/>
<use href="#sB" transform="translate(1405.8 672.6) scale(8.9)"/>
<g clip-path="url(#clipE)"><path d="M1390.5 19L1391.2 115L1391.1 180L1390.2 230L1390.7 259.9L1392.9 289.7L1395.9 319.6L1397.7 349.4L1398.3 372L1399.2 449L1400.5 560L1402.6 639.5L1405.8 721" fill="none" stroke="#000" stroke-width="3" stroke-dasharray="5 5"/></g>
<use href="#sR" transform="translate(1426.9 75.3) scale(7.8)"/>
<use href="#sR" transform="translate(1421.6 132.5) scale(7.8)"/>
<use href="#sR" transform="translate(1421.5 188) scale(7.8)"/>
<use href="#sR" transform="translate(1399.7 242.2) scale(7.8)"/>
<use href="#sR" transform="translate(1356.6 294.6) scale(7.8)"/>
<use href="#sR" transform="translate(1347.4 346.1) scale(7.8)"/>
<use href="#sR" transform="translate(1335.1 396.4) scale(7.8)"/>
<use href="#sR" transform="translate(1375.4 444.9) scale(7.8)"/>
<use href="#sR" transform="translate(1411.5 672.6) scale(7.8)"/>
<use href="#sB" transform="translate(1347.1 396.4) scale(8.9)"/>
<text x="1315" y="81" font-size="29.2" text-anchor="end"  style="">1.7</text>
<text x="1315" y="330" font-size="29.2" text-anchor="end"  style="">1.6</text>
<text x="1315" y="579.1" font-size="29.2" text-anchor="end"  style="">1.5</text>
<text x="1326" y="752.6" font-size="29.2" text-anchor="middle"  style="">–0.04</text>
<text x="1442.4" y="752.6" font-size="29.2" text-anchor="middle"  style="">0</text>
<text x="1559.2" y="752.6" font-size="29.2" text-anchor="middle"  style="">0.04</text>
<text x="1442.5" y="792.6" font-size="29.3" text-anchor="middle"><tspan font-family="Liberation Serif,serif">δ</tspan><tspan font-style="italic" dx="0.8">q</tspan><tspan font-size="20.5" dy="8">1</tspan><tspan dy="-8" font-style="italic" dx="0.8"> (k</tspan><tspan font-size="20.5" dy="8">0</tspan><tspan dy="-8" dx="0.5">)</tspan></text>
<text transform="translate(1251.6 370.2) rotate(-90)" font-size="28.6" text-anchor="middle"><tspan font-style="italic">E</tspan> (eV)</text>
<text transform="translate(1225.2 30.8) scale(1.05 1.01)" font-size="42.5" font-weight="bold">e</text>
<rect x="1412" y="572.4" width="136.4" height="82.6" fill="#fff" stroke="#000" stroke-width="2.8" stroke-dasharray="4.9 4.6"/>
<use href="#sL" transform="translate(1428.2 595.2) scale(10.7)"/>
<use href="#sR" transform="translate(1428.2 636.6) scale(9.5)"/>
<text x="1448.9" y="600.5" font-size="21" text-anchor="start"  style=""><tspan font-family="Liberation Serif,serif">Δ</tspan><tspan font-style="italic">t</tspan> = 0</text>
<text x="1448.9" y="642.5" font-size="21" text-anchor="start"  style=""><tspan font-family="Liberation Serif,serif">Δ</tspan><tspan font-style="italic">t</tspan> = 1 ps</text>
</svg>
</body></html>
